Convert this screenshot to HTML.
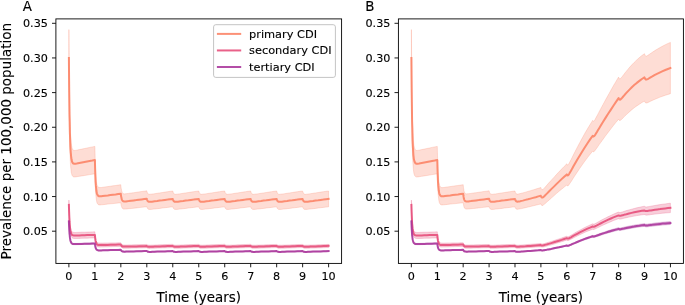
<!DOCTYPE html>
<html lang="en"><head><meta charset="utf-8"><title>Prevalence of CDI</title>
<style>
html,body{margin:0;padding:0;background:#fff;}
body{width:685px;height:305px;overflow:hidden;}
svg{display:block;filter:blur(0.35px);font-family:"DejaVu Sans","Liberation Sans",sans-serif;fill:#000;}
svg text{fill:#000;stroke:#000;stroke-width:0.12px;}
</style></head><body>
<svg width="685" height="305" viewBox="0 0 685 305">
<rect width="685" height="305" fill="#fff"/>
<g>
<path d="M68.9,29.6L69.0,43.5L69.1,55.8L69.2,66.7L69.3,76.3L69.4,84.9L69.5,94.2L69.7,102.2L69.8,109.1L69.9,115.0L70.2,124.4L70.4,131.4L70.7,136.5L71.0,140.3L71.2,143.1L71.5,145.2L72.0,147.9L72.5,149.3L73.0,150.0L74.1,150.5L75.4,150.4L76.7,150.2L79.3,149.6L81.9,149.1L84.5,148.5L87.1,148.0L89.7,147.4L92.3,146.9L94.9,146.4L94.9,146.4L95.0,151.1L95.1,155.4L95.2,159.1L95.3,162.5L95.4,165.4L95.5,168.6L95.6,171.4L95.8,173.8L95.9,175.8L96.2,179.1L96.4,181.5L96.7,183.2L96.9,184.5L97.2,185.4L97.5,186.1L98.0,186.9L98.5,187.3L99.0,187.5L100.1,187.6L101.4,187.5L102.7,187.3L105.2,186.9L107.8,186.6L110.4,186.2L113.0,185.8L115.6,185.5L118.2,185.1L120.8,184.7L120.8,184.7L120.9,185.8L121.0,186.8L121.1,187.6L121.2,188.4L121.4,189.1L121.5,189.8L121.6,190.5L121.7,191.0L121.9,191.5L122.1,192.3L122.4,192.8L122.6,193.1L122.9,193.4L123.2,193.6L123.4,193.7L123.9,193.8L124.5,193.9L125.0,193.8L126.0,193.7L127.3,193.6L128.6,193.4L131.2,193.0L133.8,192.7L136.4,192.3L139.0,191.9L141.6,191.5L144.2,191.2L146.8,190.8L146.8,190.8L146.9,191.2L147.0,191.6L147.1,192.0L147.2,192.3L147.3,192.6L147.5,192.8L147.6,193.1L147.7,193.3L147.8,193.5L148.1,193.7L148.4,193.9L148.6,194.1L148.9,194.2L149.1,194.2L149.4,194.2L149.9,194.3L150.4,194.2L151.0,194.2L152.0,194.0L153.3,193.9L154.6,193.7L157.2,193.3L159.8,192.9L162.4,192.5L165.0,192.1L167.6,191.7L170.2,191.3L172.8,191.0L172.8,191.0L172.9,191.4L173.0,191.8L173.1,192.1L173.2,192.4L173.3,192.6L173.4,192.9L173.6,193.1L173.7,193.3L173.8,193.5L174.1,193.8L174.3,194.0L174.6,194.1L174.9,194.2L175.1,194.2L175.4,194.3L175.9,194.3L176.4,194.2L176.9,194.2L178.0,194.0L179.3,193.9L180.6,193.7L183.2,193.3L185.8,192.9L188.4,192.5L191.0,192.1L193.6,191.7L196.2,191.3L198.8,191.0L198.8,191.0L198.9,191.4L199.0,191.8L199.1,192.1L199.2,192.4L199.3,192.6L199.4,192.9L199.5,193.1L199.7,193.3L199.8,193.5L200.0,193.8L200.3,194.0L200.6,194.1L200.8,194.2L201.1,194.2L201.3,194.3L201.9,194.3L202.4,194.2L202.9,194.2L203.9,194.0L205.2,193.9L206.5,193.7L209.1,193.3L211.7,192.9L214.3,192.5L216.9,192.1L219.5,191.7L222.1,191.3L224.7,191.0L224.7,191.0L224.8,191.4L224.9,191.8L225.0,192.1L225.1,192.4L225.2,192.6L225.4,192.9L225.5,193.1L225.6,193.3L225.8,193.5L226.0,193.8L226.3,194.0L226.5,194.1L226.8,194.2L227.1,194.2L227.3,194.3L227.8,194.3L228.4,194.2L228.9,194.2L229.9,194.0L231.2,193.9L232.5,193.7L235.1,193.3L237.7,192.9L240.3,192.5L242.9,192.1L245.5,191.7L248.1,191.3L250.7,191.0L250.7,191.0L250.8,191.4L250.9,191.8L251.0,192.1L251.1,192.4L251.2,192.6L251.3,192.9L251.5,193.1L251.6,193.3L251.7,193.5L252.0,193.8L252.3,194.0L252.5,194.1L252.8,194.2L253.0,194.2L253.3,194.3L253.8,194.3L254.3,194.2L254.9,194.2L255.9,194.0L257.2,193.9L258.5,193.7L261.1,193.3L263.7,192.9L266.3,192.5L268.9,192.1L271.5,191.7L274.1,191.3L276.7,191.0L276.7,191.0L276.8,191.4L276.9,191.8L277.0,192.1L277.1,192.4L277.2,192.6L277.3,192.9L277.4,193.1L277.6,193.3L277.7,193.5L278.0,193.8L278.2,194.0L278.5,194.1L278.7,194.2L279.0,194.2L279.3,194.3L279.8,194.3L280.3,194.2L280.8,194.2L281.9,194.0L283.2,193.9L284.5,193.7L287.1,193.3L289.7,192.9L292.3,192.5L294.8,192.1L297.4,191.7L300.0,191.3L302.6,191.0L302.6,191.0L302.7,191.4L302.8,191.8L303.0,192.1L303.1,192.4L303.2,192.6L303.3,192.9L303.4,193.1L303.5,193.3L303.7,193.5L303.9,193.8L304.2,194.0L304.5,194.1L304.7,194.2L305.0,194.2L305.2,194.3L305.8,194.3L306.3,194.2L306.8,194.2L307.8,194.0L309.1,193.9L310.4,193.7L313.0,193.3L315.6,192.9L318.2,192.5L320.8,192.1L323.4,191.7L326.0,191.3L328.6,191.0L328.6,206.8L326.0,207.1L323.4,207.4L320.8,207.7L318.2,208.0L315.6,208.4L313.0,208.7L310.4,209.0L309.1,209.1L307.8,209.3L306.8,209.4L306.3,209.4L305.8,209.4L305.2,209.4L305.0,209.4L304.7,209.4L304.5,209.3L304.2,209.2L303.9,209.1L303.7,208.8L303.5,208.7L303.4,208.6L303.3,208.4L303.2,208.2L303.1,208.0L303.0,207.7L302.8,207.5L302.7,207.2L302.6,206.8L302.6,206.8L300.0,207.1L297.4,207.4L294.8,207.7L292.3,208.0L289.7,208.4L287.1,208.7L284.5,209.0L283.2,209.1L281.9,209.3L280.8,209.4L280.3,209.4L279.8,209.4L279.3,209.4L279.0,209.4L278.7,209.4L278.5,209.3L278.2,209.2L278.0,209.1L277.7,208.8L277.6,208.7L277.4,208.6L277.3,208.4L277.2,208.2L277.1,208.0L277.0,207.7L276.9,207.5L276.8,207.2L276.7,206.8L276.7,206.8L274.1,207.1L271.5,207.4L268.9,207.7L266.3,208.0L263.7,208.4L261.1,208.7L258.5,209.0L257.2,209.1L255.9,209.3L254.9,209.4L254.3,209.4L253.8,209.4L253.3,209.4L253.0,209.4L252.8,209.4L252.5,209.3L252.3,209.2L252.0,209.1L251.7,208.8L251.6,208.7L251.5,208.6L251.3,208.4L251.2,208.2L251.1,208.0L251.0,207.7L250.9,207.5L250.8,207.2L250.7,206.8L250.7,206.8L248.1,207.1L245.5,207.4L242.9,207.7L240.3,208.0L237.7,208.4L235.1,208.7L232.5,209.0L231.2,209.1L229.9,209.3L228.9,209.4L228.4,209.4L227.8,209.4L227.3,209.4L227.1,209.4L226.8,209.4L226.5,209.3L226.3,209.2L226.0,209.1L225.8,208.8L225.6,208.7L225.5,208.6L225.4,208.4L225.2,208.2L225.1,208.0L225.0,207.7L224.9,207.5L224.8,207.2L224.7,206.8L224.7,206.8L222.1,207.1L219.5,207.4L216.9,207.7L214.3,208.0L211.7,208.4L209.1,208.7L206.5,209.0L205.2,209.1L203.9,209.3L202.9,209.4L202.4,209.4L201.9,209.4L201.3,209.4L201.1,209.4L200.8,209.4L200.6,209.3L200.3,209.2L200.0,209.1L199.8,208.8L199.7,208.7L199.5,208.6L199.4,208.4L199.3,208.2L199.2,208.0L199.1,207.7L199.0,207.5L198.9,207.2L198.8,206.8L198.8,206.8L196.2,207.1L193.6,207.4L191.0,207.7L188.4,208.0L185.8,208.4L183.2,208.7L180.6,209.0L179.3,209.1L178.0,209.3L176.9,209.4L176.4,209.4L175.9,209.4L175.4,209.4L175.1,209.4L174.9,209.4L174.6,209.3L174.3,209.2L174.1,209.1L173.8,208.8L173.7,208.7L173.6,208.6L173.4,208.4L173.3,208.2L173.2,208.0L173.1,207.7L173.0,207.5L172.9,207.2L172.8,206.8L172.8,206.8L170.2,207.1L167.6,207.4L165.0,207.7L162.4,208.0L159.8,208.4L157.2,208.7L154.6,209.0L153.3,209.1L152.0,209.3L151.0,209.4L150.4,209.4L149.9,209.4L149.4,209.4L149.1,209.4L148.9,209.4L148.6,209.3L148.4,209.2L148.1,209.0L147.8,208.8L147.7,208.7L147.6,208.5L147.5,208.3L147.3,208.1L147.2,207.9L147.1,207.6L147.0,207.4L146.9,207.1L146.8,206.7L146.8,206.7L144.2,207.0L141.6,207.3L139.0,207.6L136.4,207.9L133.8,208.2L131.2,208.5L128.6,208.7L127.3,208.9L126.0,209.0L125.0,209.1L124.5,209.1L123.9,209.1L123.4,209.0L123.2,208.9L122.9,208.7L122.6,208.5L122.4,208.3L122.1,207.9L121.9,207.4L121.7,207.1L121.6,206.7L121.5,206.3L121.4,205.8L121.2,205.3L121.1,204.8L121.0,204.2L120.9,203.5L120.8,202.7L120.8,202.7L118.2,203.0L115.6,203.3L113.0,203.6L110.4,203.8L107.8,204.1L105.2,204.4L102.7,204.7L101.4,204.8L100.1,204.9L99.0,204.9L98.5,204.7L98.0,204.4L97.5,203.7L97.2,203.2L96.9,202.5L96.7,201.5L96.4,200.2L96.2,198.3L95.9,195.9L95.8,194.4L95.6,192.6L95.5,190.6L95.4,188.2L95.3,185.9L95.2,183.4L95.1,180.6L95.0,177.4L94.9,173.8L94.9,173.8L92.3,174.2L89.7,174.6L87.1,175.1L84.5,175.5L81.9,175.9L79.3,176.3L76.7,176.7L75.4,176.9L74.1,177.0L73.0,176.6L72.5,176.1L72.0,175.2L71.5,173.3L71.2,171.9L71.0,169.8L70.7,167.0L70.4,163.2L70.2,157.9L69.9,150.8L69.8,146.4L69.7,141.2L69.5,135.2L69.4,128.2L69.3,121.7L69.2,114.4L69.1,106.2L69.0,96.9L68.9,86.4Z" fill="#fb8163" fill-opacity="0.27" stroke="#fb8163" stroke-opacity="0.27" stroke-width="0.9" stroke-linejoin="round"/>
<path d="M68.9,58.0L69.0,70.2L69.1,81.0L69.2,90.5L69.3,99.0L69.4,106.5L69.5,114.7L69.7,121.7L69.8,127.7L69.9,132.9L70.2,141.2L70.4,147.3L70.7,151.8L71.0,155.1L71.2,157.5L71.5,159.3L72.0,161.5L72.5,162.7L73.0,163.3L74.1,163.7L75.4,163.7L76.7,163.5L79.3,163.0L81.9,162.5L84.5,162.0L87.1,161.5L89.7,161.0L92.3,160.6L94.9,160.1L94.9,160.1L95.0,164.3L95.1,168.0L95.2,171.3L95.3,174.2L95.4,176.8L95.5,179.6L95.6,182.0L95.8,184.1L95.9,185.9L96.2,188.7L96.4,190.8L96.7,192.4L96.9,193.5L97.2,194.3L97.5,194.9L98.0,195.6L98.5,196.0L99.0,196.2L100.1,196.3L101.4,196.2L102.7,196.0L105.2,195.7L107.8,195.4L110.4,195.0L113.0,194.7L115.6,194.4L118.2,194.0L120.8,193.7L120.8,193.7L120.9,194.6L121.0,195.5L121.1,196.2L121.2,196.9L121.4,197.4L121.5,198.1L121.6,198.6L121.7,199.1L121.9,199.4L122.1,200.1L122.4,200.5L122.6,200.8L122.9,201.1L123.2,201.2L123.4,201.3L123.9,201.4L124.5,201.5L125.0,201.5L126.0,201.4L127.3,201.2L128.6,201.1L131.2,200.7L133.8,200.4L136.4,200.1L139.0,199.7L141.6,199.4L144.2,199.1L146.8,198.8L146.8,198.8L146.9,199.1L147.0,199.5L147.1,199.8L147.2,200.1L147.3,200.3L147.5,200.6L147.6,200.8L147.7,201.0L147.8,201.1L148.1,201.4L148.4,201.6L148.6,201.7L148.9,201.8L149.1,201.8L149.4,201.8L149.9,201.8L150.4,201.8L151.0,201.8L152.0,201.7L153.3,201.5L154.6,201.3L157.2,201.0L159.8,200.6L162.4,200.3L165.0,199.9L167.6,199.6L170.2,199.2L172.8,198.9L172.8,198.9L172.9,199.3L173.0,199.6L173.1,199.9L173.2,200.2L173.3,200.4L173.4,200.6L173.6,200.9L173.7,201.0L173.8,201.2L174.1,201.4L174.3,201.6L174.6,201.7L174.9,201.8L175.1,201.8L175.4,201.8L175.9,201.8L176.4,201.8L176.9,201.8L178.0,201.7L179.3,201.5L180.6,201.3L183.2,201.0L185.8,200.6L188.4,200.3L191.0,199.9L193.6,199.6L196.2,199.2L198.8,198.9L198.8,198.9L198.9,199.3L199.0,199.6L199.1,199.9L199.2,200.2L199.3,200.4L199.4,200.6L199.5,200.9L199.7,201.0L199.8,201.2L200.0,201.4L200.3,201.6L200.6,201.7L200.8,201.8L201.1,201.8L201.3,201.8L201.9,201.8L202.4,201.8L202.9,201.8L203.9,201.7L205.2,201.5L206.5,201.3L209.1,201.0L211.7,200.6L214.3,200.3L216.9,199.9L219.5,199.6L222.1,199.2L224.7,198.9L224.7,198.9L224.8,199.3L224.9,199.6L225.0,199.9L225.1,200.2L225.2,200.4L225.4,200.6L225.5,200.9L225.6,201.0L225.8,201.2L226.0,201.4L226.3,201.6L226.5,201.7L226.8,201.8L227.1,201.8L227.3,201.8L227.8,201.8L228.4,201.8L228.9,201.8L229.9,201.7L231.2,201.5L232.5,201.3L235.1,201.0L237.7,200.6L240.3,200.3L242.9,199.9L245.5,199.6L248.1,199.2L250.7,198.9L250.7,198.9L250.8,199.3L250.9,199.6L251.0,199.9L251.1,200.2L251.2,200.4L251.3,200.6L251.5,200.9L251.6,201.0L251.7,201.2L252.0,201.4L252.3,201.6L252.5,201.7L252.8,201.8L253.0,201.8L253.3,201.8L253.8,201.8L254.3,201.8L254.9,201.8L255.9,201.7L257.2,201.5L258.5,201.3L261.1,201.0L263.7,200.6L266.3,200.3L268.9,199.9L271.5,199.6L274.1,199.2L276.7,198.9L276.7,198.9L276.8,199.3L276.9,199.6L277.0,199.9L277.1,200.2L277.2,200.4L277.3,200.6L277.4,200.9L277.6,201.0L277.7,201.2L278.0,201.4L278.2,201.6L278.5,201.7L278.7,201.8L279.0,201.8L279.3,201.8L279.8,201.8L280.3,201.8L280.8,201.8L281.9,201.7L283.2,201.5L284.5,201.3L287.1,201.0L289.7,200.6L292.3,200.3L294.8,199.9L297.4,199.6L300.0,199.2L302.6,198.9L302.6,198.9L302.7,199.3L302.8,199.6L303.0,199.9L303.1,200.2L303.2,200.4L303.3,200.6L303.4,200.9L303.5,201.0L303.7,201.2L303.9,201.4L304.2,201.6L304.5,201.7L304.7,201.8L305.0,201.8L305.2,201.8L305.8,201.8L306.3,201.8L306.8,201.8L307.8,201.7L309.1,201.5L310.4,201.3L313.0,201.0L315.6,200.6L318.2,200.3L320.8,199.9L323.4,199.6L326.0,199.2L328.6,198.9" fill="none" stroke="#fb8163" stroke-opacity="0.87" stroke-width="2.0" stroke-linejoin="round" stroke-linecap="square"/>
<path d="M68.9,200.1L69.0,203.8L69.1,207.1L69.2,210.1L69.3,212.7L69.4,215.0L69.5,217.5L69.7,219.7L69.8,221.6L69.9,223.2L70.2,225.7L70.4,227.6L70.7,228.9L71.0,229.9L71.2,230.7L71.5,231.2L72.0,231.8L72.5,232.1L73.0,232.3L74.1,232.4L75.4,232.5L76.7,232.4L79.3,232.3L81.9,232.2L84.5,232.2L87.1,232.1L89.7,232.0L92.3,231.9L94.9,231.8L94.9,231.8L95.0,233.1L95.1,234.3L95.2,235.3L95.3,236.2L95.4,237.0L95.5,237.8L95.6,238.6L95.8,239.2L95.9,239.8L96.2,240.7L96.4,241.3L96.7,241.8L96.9,242.1L97.2,242.4L97.5,242.6L98.0,242.8L98.5,243.0L99.0,243.0L100.1,243.1L101.4,243.1L102.7,243.1L105.2,243.0L107.8,243.0L110.4,242.9L113.0,242.9L115.6,242.9L118.2,242.8L120.8,242.8L120.8,242.8L120.9,243.0L121.0,243.3L121.1,243.5L121.2,243.7L121.4,243.8L121.5,244.0L121.6,244.2L121.7,244.3L121.9,244.4L122.1,244.6L122.4,244.7L122.6,244.8L122.9,244.9L123.2,244.9L123.4,245.0L123.9,245.0L124.5,245.0L125.0,245.0L126.0,245.0L127.3,245.0L128.6,244.9L131.2,244.9L133.8,244.8L136.4,244.7L139.0,244.7L141.6,244.6L144.2,244.5L146.8,244.4L146.8,244.4L146.9,244.5L147.0,244.6L147.1,244.7L147.2,244.8L147.3,244.8L147.5,244.9L147.6,244.9L147.7,245.0L147.8,245.0L148.1,245.1L148.4,245.1L148.6,245.1L148.9,245.2L149.1,245.2L149.4,245.2L149.9,245.2L150.4,245.2L151.0,245.2L152.0,245.1L153.3,245.1L154.6,245.0L157.2,244.9L159.8,244.8L162.4,244.7L165.0,244.6L167.6,244.5L170.2,244.4L172.8,244.3L172.8,244.3L172.9,244.4L173.0,244.5L173.1,244.6L173.2,244.7L173.3,244.8L173.4,244.8L173.6,244.9L173.7,244.9L173.8,245.0L174.1,245.1L174.3,245.1L174.6,245.1L174.9,245.2L175.1,245.2L175.4,245.2L175.9,245.2L176.4,245.2L176.9,245.2L178.0,245.1L179.3,245.1L180.6,245.0L183.2,244.9L185.8,244.8L188.4,244.7L191.0,244.6L193.6,244.5L196.2,244.4L198.8,244.3L198.8,244.3L198.9,244.4L199.0,244.5L199.1,244.6L199.2,244.7L199.3,244.8L199.4,244.8L199.5,244.9L199.7,245.0L199.8,245.0L200.0,245.1L200.3,245.1L200.6,245.2L200.8,245.2L201.1,245.2L201.3,245.2L201.9,245.2L202.4,245.2L202.9,245.2L203.9,245.1L205.2,245.1L206.5,245.0L209.1,244.9L211.7,244.8L214.3,244.7L216.9,244.6L219.5,244.5L222.1,244.4L224.7,244.3L224.7,244.3L224.8,244.4L224.9,244.5L225.0,244.6L225.1,244.7L225.2,244.8L225.4,244.9L225.5,244.9L225.6,245.0L225.8,245.0L226.0,245.1L226.3,245.1L226.5,245.2L226.8,245.2L227.1,245.2L227.3,245.2L227.8,245.2L228.4,245.2L228.9,245.2L229.9,245.2L231.2,245.1L232.5,245.1L235.1,245.0L237.7,244.8L240.3,244.7L242.9,244.6L245.5,244.5L248.1,244.4L250.7,244.3L250.7,244.3L250.8,244.5L250.9,244.6L251.0,244.6L251.1,244.7L251.2,244.8L251.3,244.9L251.5,244.9L251.6,245.0L251.7,245.0L252.0,245.1L252.3,245.1L252.5,245.2L252.8,245.2L253.0,245.2L253.3,245.2L253.8,245.2L254.3,245.2L254.9,245.2L255.9,245.2L257.2,245.1L258.5,245.1L261.1,245.0L263.7,244.9L266.3,244.8L268.9,244.7L271.5,244.6L274.1,244.5L276.7,244.4L276.7,244.4L276.8,244.5L276.9,244.6L277.0,244.7L277.1,244.7L277.2,244.8L277.3,244.9L277.4,244.9L277.6,245.0L277.7,245.0L278.0,245.1L278.2,245.2L278.5,245.2L278.7,245.2L279.0,245.2L279.3,245.2L279.8,245.2L280.3,245.2L280.8,245.2L281.9,245.2L283.2,245.1L284.5,245.1L287.1,245.0L289.7,244.9L292.3,244.8L294.8,244.7L297.4,244.6L300.0,244.5L302.6,244.4L302.6,244.4L302.7,244.5L302.8,244.6L303.0,244.7L303.1,244.7L303.2,244.8L303.3,244.9L303.4,244.9L303.5,245.0L303.7,245.0L303.9,245.1L304.2,245.2L304.5,245.2L304.7,245.2L305.0,245.2L305.2,245.2L305.8,245.2L306.3,245.2L306.8,245.2L307.8,245.2L309.1,245.1L310.4,245.1L313.0,245.0L315.6,244.9L318.2,244.8L320.8,244.7L323.4,244.6L326.0,244.5L328.6,244.4L328.6,247.5L326.0,247.6L323.4,247.7L320.8,247.8L318.2,247.9L315.6,248.0L313.0,248.1L310.4,248.1L309.1,248.2L307.8,248.2L306.8,248.3L306.3,248.3L305.8,248.3L305.2,248.3L305.0,248.3L304.7,248.3L304.5,248.2L304.2,248.2L303.9,248.2L303.7,248.1L303.5,248.1L303.4,248.0L303.3,248.0L303.2,247.9L303.1,247.9L303.0,247.8L302.8,247.7L302.7,247.6L302.6,247.5L302.6,247.5L300.0,247.6L297.4,247.7L294.8,247.8L292.3,247.9L289.7,248.0L287.1,248.1L284.5,248.2L283.2,248.2L281.9,248.2L280.8,248.3L280.3,248.3L279.8,248.3L279.3,248.3L279.0,248.3L278.7,248.3L278.5,248.3L278.2,248.2L278.0,248.2L277.7,248.1L277.6,248.1L277.4,248.0L277.3,248.0L277.2,247.9L277.1,247.9L277.0,247.8L276.9,247.7L276.8,247.6L276.7,247.5L276.7,247.5L274.1,247.6L271.5,247.7L268.9,247.8L266.3,247.9L263.7,248.0L261.1,248.1L258.5,248.2L257.2,248.2L255.9,248.3L254.9,248.3L254.3,248.3L253.8,248.3L253.3,248.3L253.0,248.3L252.8,248.3L252.5,248.3L252.3,248.2L252.0,248.2L251.7,248.1L251.6,248.1L251.5,248.1L251.3,248.0L251.2,247.9L251.1,247.9L251.0,247.8L250.9,247.7L250.8,247.7L250.7,247.6L250.7,247.6L248.1,247.6L245.5,247.7L242.9,247.8L240.3,247.9L237.7,248.0L235.1,248.1L232.5,248.2L231.2,248.2L229.9,248.3L228.9,248.3L228.4,248.3L227.8,248.3L227.3,248.3L227.1,248.3L226.8,248.3L226.5,248.3L226.3,248.3L226.0,248.2L225.8,248.1L225.6,248.1L225.5,248.1L225.4,248.0L225.2,247.9L225.1,247.9L225.0,247.8L224.9,247.8L224.8,247.7L224.7,247.6L224.7,247.6L222.1,247.7L219.5,247.7L216.9,247.8L214.3,247.9L211.7,248.0L209.1,248.1L206.5,248.2L205.2,248.2L203.9,248.3L202.9,248.3L202.4,248.3L201.9,248.3L201.3,248.3L201.1,248.3L200.8,248.3L200.6,248.3L200.3,248.3L200.0,248.2L199.8,248.2L199.7,248.1L199.5,248.1L199.4,248.0L199.3,248.0L199.2,247.9L199.1,247.8L199.0,247.8L198.9,247.7L198.8,247.6L198.8,247.6L196.2,247.7L193.6,247.8L191.0,247.8L188.4,247.9L185.8,248.0L183.2,248.1L180.6,248.2L179.3,248.2L178.0,248.3L176.9,248.3L176.4,248.3L175.9,248.3L175.4,248.3L175.1,248.3L174.9,248.3L174.6,248.3L174.3,248.3L174.1,248.2L173.8,248.2L173.7,248.1L173.6,248.1L173.4,248.0L173.3,248.0L173.2,247.9L173.1,247.8L173.0,247.8L172.9,247.7L172.8,247.6L172.8,247.6L170.2,247.7L167.6,247.8L165.0,247.9L162.4,247.9L159.8,248.0L157.2,248.1L154.6,248.2L153.3,248.3L152.0,248.3L151.0,248.3L150.4,248.3L149.9,248.4L149.4,248.4L149.1,248.4L148.9,248.3L148.6,248.3L148.4,248.3L148.1,248.3L147.8,248.2L147.7,248.2L147.6,248.2L147.5,248.1L147.3,248.1L147.2,248.0L147.1,247.9L147.0,247.9L146.9,247.8L146.8,247.7L146.8,247.7L144.2,247.8L141.6,247.9L139.0,247.9L136.4,248.0L133.8,248.0L131.2,248.1L128.6,248.2L127.3,248.2L126.0,248.2L125.0,248.2L124.5,248.2L123.9,248.2L123.4,248.2L123.2,248.2L122.9,248.1L122.6,248.1L122.4,248.0L122.1,247.9L121.9,247.7L121.7,247.6L121.6,247.5L121.5,247.4L121.4,247.2L121.2,247.1L121.1,247.0L121.0,246.8L120.9,246.6L120.8,246.4L120.8,246.4L118.2,246.4L115.6,246.5L113.0,246.6L110.4,246.7L107.8,246.8L105.2,246.9L102.7,247.0L101.4,247.0L100.1,247.1L99.0,247.0L98.5,247.0L98.0,246.9L97.5,246.7L97.2,246.6L96.9,246.4L96.7,246.1L96.4,245.7L96.2,245.2L95.9,244.5L95.8,244.0L95.6,243.5L95.5,242.9L95.4,242.2L95.3,241.5L95.2,240.8L95.1,239.9L95.0,239.0L94.9,237.9L94.9,237.9L92.3,238.0L89.7,238.1L87.1,238.2L84.5,238.2L81.9,238.3L79.3,238.4L76.7,238.5L75.4,238.5L74.1,238.5L73.0,238.3L72.5,238.1L72.0,237.7L71.5,237.1L71.2,236.5L71.0,235.9L70.7,234.9L70.4,233.7L70.2,232.1L69.9,229.8L69.8,228.4L69.7,226.8L69.5,224.9L69.4,222.7L69.3,220.7L69.2,218.5L69.1,215.9L69.0,213.0L68.9,209.8Z" fill="#e64a78" fill-opacity="0.27" stroke="#e64a78" stroke-opacity="0.27" stroke-width="0.9" stroke-linejoin="round"/>
<path d="M68.9,204.9L69.0,208.4L69.1,211.5L69.2,214.3L69.3,216.7L69.4,218.9L69.5,221.2L69.7,223.3L69.8,225.0L69.9,226.5L70.2,228.9L70.4,230.6L70.7,231.9L71.0,232.9L71.2,233.6L71.5,234.1L72.0,234.8L72.5,235.1L73.0,235.3L74.1,235.5L75.4,235.5L76.7,235.4L79.3,235.4L81.9,235.3L84.5,235.2L87.1,235.1L89.7,235.0L92.3,235.0L94.9,234.9L94.9,234.9L95.0,236.1L95.1,237.1L95.2,238.0L95.3,238.8L95.4,239.6L95.5,240.4L95.6,241.0L95.8,241.6L95.9,242.1L96.2,242.9L96.4,243.5L96.7,243.9L96.9,244.3L97.2,244.5L97.5,244.7L98.0,244.9L98.5,245.0L99.0,245.0L100.1,245.1L101.4,245.1L102.7,245.0L105.2,245.0L107.8,244.9L110.4,244.8L113.0,244.8L115.6,244.7L118.2,244.6L120.8,244.6L120.8,244.6L120.9,244.8L121.0,245.0L121.1,245.2L121.2,245.4L121.4,245.5L121.5,245.7L121.6,245.8L121.7,246.0L121.9,246.1L122.1,246.2L122.4,246.4L122.6,246.4L122.9,246.5L123.2,246.5L123.4,246.6L123.9,246.6L124.5,246.6L125.0,246.6L126.0,246.6L127.3,246.6L128.6,246.5L131.2,246.5L133.8,246.4L136.4,246.4L139.0,246.3L141.6,246.2L144.2,246.2L146.8,246.1L146.8,246.1L146.9,246.2L147.0,246.3L147.1,246.3L147.2,246.4L147.3,246.4L147.5,246.5L147.6,246.5L147.7,246.6L147.8,246.6L148.1,246.7L148.4,246.7L148.6,246.7L148.9,246.8L149.1,246.8L149.4,246.8L149.9,246.8L150.4,246.8L151.0,246.7L152.0,246.7L153.3,246.7L154.6,246.6L157.2,246.5L159.8,246.4L162.4,246.3L165.0,246.2L167.6,246.1L170.2,246.0L172.8,245.9L172.8,245.9L172.9,246.1L173.0,246.1L173.1,246.2L173.2,246.3L173.3,246.4L173.4,246.4L173.6,246.5L173.7,246.5L173.8,246.6L174.1,246.6L174.3,246.7L174.6,246.7L174.9,246.7L175.1,246.8L175.4,246.8L175.9,246.8L176.4,246.8L176.9,246.7L178.0,246.7L179.3,246.7L180.6,246.6L183.2,246.5L185.8,246.4L188.4,246.3L191.0,246.2L193.6,246.1L196.2,246.0L198.8,245.9L198.8,245.9L198.9,246.1L199.0,246.1L199.1,246.2L199.2,246.3L199.3,246.4L199.4,246.4L199.5,246.5L199.7,246.5L199.8,246.6L200.0,246.6L200.3,246.7L200.6,246.7L200.8,246.7L201.1,246.8L201.3,246.8L201.9,246.8L202.4,246.8L202.9,246.7L203.9,246.7L205.2,246.7L206.5,246.6L209.1,246.5L211.7,246.4L214.3,246.3L216.9,246.2L219.5,246.1L222.1,246.0L224.7,245.9L224.7,245.9L224.8,246.1L224.9,246.1L225.0,246.2L225.1,246.3L225.2,246.4L225.4,246.4L225.5,246.5L225.6,246.5L225.8,246.6L226.0,246.6L226.3,246.7L226.5,246.7L226.8,246.7L227.1,246.8L227.3,246.8L227.8,246.8L228.4,246.8L228.9,246.7L229.9,246.7L231.2,246.7L232.5,246.6L235.1,246.5L237.7,246.4L240.3,246.3L242.9,246.2L245.5,246.1L248.1,246.0L250.7,245.9L250.7,245.9L250.8,246.1L250.9,246.1L251.0,246.2L251.1,246.3L251.2,246.4L251.3,246.4L251.5,246.5L251.6,246.5L251.7,246.6L252.0,246.6L252.3,246.7L252.5,246.7L252.8,246.7L253.0,246.8L253.3,246.8L253.8,246.8L254.3,246.8L254.9,246.7L255.9,246.7L257.2,246.7L258.5,246.6L261.1,246.5L263.7,246.4L266.3,246.3L268.9,246.2L271.5,246.1L274.1,246.0L276.7,245.9L276.7,245.9L276.8,246.1L276.9,246.1L277.0,246.2L277.1,246.3L277.2,246.4L277.3,246.4L277.4,246.5L277.6,246.5L277.7,246.6L278.0,246.6L278.2,246.7L278.5,246.7L278.7,246.7L279.0,246.8L279.3,246.8L279.8,246.8L280.3,246.8L280.8,246.7L281.9,246.7L283.2,246.7L284.5,246.6L287.1,246.5L289.7,246.4L292.3,246.3L294.8,246.2L297.4,246.1L300.0,246.0L302.6,245.9L302.6,245.9L302.7,246.1L302.8,246.1L303.0,246.2L303.1,246.3L303.2,246.4L303.3,246.4L303.4,246.5L303.5,246.5L303.7,246.6L303.9,246.6L304.2,246.7L304.5,246.7L304.7,246.7L305.0,246.8L305.2,246.8L305.8,246.8L306.3,246.8L306.8,246.7L307.8,246.7L309.1,246.7L310.4,246.6L313.0,246.5L315.6,246.4L318.2,246.3L320.8,246.2L323.4,246.1L326.0,246.0L328.6,245.9" fill="none" stroke="#e64a78" stroke-opacity="0.87" stroke-width="2.0" stroke-linejoin="round" stroke-linecap="square"/>
<path d="M68.9,220.1L69.0,222.8L69.1,225.2L69.2,227.3L69.3,229.1L69.4,230.8L69.5,232.6L69.7,234.1L69.8,235.5L69.9,236.6L70.2,238.4L70.4,239.8L70.7,240.8L71.0,241.5L71.2,242.0L71.5,242.4L72.0,242.9L72.5,243.2L73.0,243.3L74.1,243.4L75.4,243.4L76.7,243.4L79.3,243.3L81.9,243.2L84.5,243.2L87.1,243.1L89.7,243.0L92.3,242.9L94.9,242.9L94.9,242.9L95.0,243.7L95.1,244.4L95.2,245.1L95.3,245.6L95.4,246.1L95.5,246.7L95.6,247.2L95.8,247.6L95.9,247.9L96.2,248.5L96.4,248.9L96.7,249.2L96.9,249.4L97.2,249.6L97.5,249.7L98.0,249.8L98.5,249.9L99.0,249.9L100.1,249.9L101.4,249.9L102.7,249.9L105.2,249.8L107.8,249.7L110.4,249.7L113.0,249.6L115.6,249.5L118.2,249.4L120.8,249.3L120.8,249.3L120.9,249.6L121.0,249.8L121.1,250.0L121.2,250.1L121.4,250.3L121.5,250.4L121.6,250.5L121.7,250.7L121.9,250.8L122.1,250.9L122.4,251.0L122.6,251.1L122.9,251.1L123.2,251.2L123.4,251.2L123.9,251.2L124.5,251.2L125.0,251.2L126.0,251.2L127.3,251.2L128.6,251.1L131.2,251.1L133.8,251.0L136.4,250.9L139.0,250.8L141.6,250.7L144.2,250.6L146.8,250.6L146.8,250.6L146.9,250.7L147.0,250.8L147.1,250.9L147.2,251.0L147.3,251.0L147.5,251.1L147.6,251.2L147.7,251.2L147.8,251.3L148.1,251.3L148.4,251.4L148.6,251.4L148.9,251.4L149.1,251.5L149.4,251.5L149.9,251.5L150.4,251.5L151.0,251.5L152.0,251.4L153.3,251.4L154.6,251.3L157.2,251.2L159.8,251.1L162.4,251.0L165.0,250.9L167.6,250.8L170.2,250.7L172.8,250.6L172.8,250.6L172.9,250.7L173.0,250.8L173.1,250.9L173.2,251.0L173.3,251.1L173.4,251.1L173.6,251.2L173.7,251.2L173.8,251.3L174.1,251.4L174.3,251.4L174.6,251.4L174.9,251.5L175.1,251.5L175.4,251.5L175.9,251.5L176.4,251.5L176.9,251.5L178.0,251.4L179.3,251.4L180.6,251.3L183.2,251.2L185.8,251.1L188.4,251.0L191.0,250.9L193.6,250.8L196.2,250.7L198.8,250.6L198.8,250.6L198.9,250.7L199.0,250.8L199.1,250.9L199.2,251.0L199.3,251.1L199.4,251.1L199.5,251.2L199.7,251.2L199.8,251.3L200.0,251.4L200.3,251.4L200.6,251.4L200.8,251.5L201.1,251.5L201.3,251.5L201.9,251.5L202.4,251.5L202.9,251.5L203.9,251.4L205.2,251.4L206.5,251.3L209.1,251.2L211.7,251.1L214.3,251.0L216.9,250.9L219.5,250.8L222.1,250.7L224.7,250.6L224.7,250.6L224.8,250.7L224.9,250.8L225.0,250.9L225.1,251.0L225.2,251.1L225.4,251.1L225.5,251.2L225.6,251.2L225.8,251.3L226.0,251.4L226.3,251.4L226.5,251.4L226.8,251.5L227.1,251.5L227.3,251.5L227.8,251.5L228.4,251.5L228.9,251.5L229.9,251.4L231.2,251.4L232.5,251.3L235.1,251.2L237.7,251.1L240.3,251.0L242.9,250.9L245.5,250.8L248.1,250.7L250.7,250.6L250.7,250.6L250.8,250.7L250.9,250.8L251.0,250.9L251.1,251.0L251.2,251.1L251.3,251.1L251.5,251.2L251.6,251.2L251.7,251.3L252.0,251.4L252.3,251.4L252.5,251.4L252.8,251.5L253.0,251.5L253.3,251.5L253.8,251.5L254.3,251.5L254.9,251.5L255.9,251.4L257.2,251.4L258.5,251.3L261.1,251.2L263.7,251.1L266.3,251.0L268.9,250.9L271.5,250.8L274.1,250.7L276.7,250.6L276.7,250.6L276.8,250.7L276.9,250.8L277.0,250.9L277.1,251.0L277.2,251.1L277.3,251.1L277.4,251.2L277.6,251.2L277.7,251.3L278.0,251.4L278.2,251.4L278.5,251.4L278.7,251.5L279.0,251.5L279.3,251.5L279.8,251.5L280.3,251.5L280.8,251.5L281.9,251.4L283.2,251.4L284.5,251.3L287.1,251.2L289.7,251.1L292.3,251.0L294.8,250.9L297.4,250.8L300.0,250.7L302.6,250.6L302.6,250.6L302.7,250.7L302.8,250.8L303.0,250.9L303.1,251.0L303.2,251.1L303.3,251.1L303.4,251.2L303.5,251.2L303.7,251.3L303.9,251.4L304.2,251.4L304.5,251.4L304.7,251.5L305.0,251.5L305.2,251.5L305.8,251.5L306.3,251.5L306.8,251.5L307.8,251.4L309.1,251.4L310.4,251.3L313.0,251.2L315.6,251.1L318.2,251.0L320.8,250.9L323.4,250.8L326.0,250.7L328.6,250.6L328.6,251.5L326.0,251.6L323.4,251.7L320.8,251.8L318.2,251.9L315.6,252.0L313.0,252.1L310.4,252.2L309.1,252.2L307.8,252.2L306.8,252.3L306.3,252.3L305.8,252.3L305.2,252.3L305.0,252.3L304.7,252.3L304.5,252.3L304.2,252.2L303.9,252.2L303.7,252.1L303.5,252.1L303.4,252.0L303.3,252.0L303.2,251.9L303.1,251.8L303.0,251.8L302.8,251.7L302.7,251.6L302.6,251.5L302.6,251.5L300.0,251.6L297.4,251.7L294.8,251.8L292.3,251.9L289.7,252.0L287.1,252.1L284.5,252.2L283.2,252.2L281.9,252.2L280.8,252.3L280.3,252.3L279.8,252.3L279.3,252.3L279.0,252.3L278.7,252.3L278.5,252.3L278.2,252.2L278.0,252.2L277.7,252.1L277.6,252.1L277.4,252.0L277.3,252.0L277.2,251.9L277.1,251.8L277.0,251.8L276.9,251.7L276.8,251.6L276.7,251.5L276.7,251.5L274.1,251.6L271.5,251.7L268.9,251.8L266.3,251.9L263.7,252.0L261.1,252.1L258.5,252.2L257.2,252.2L255.9,252.2L254.9,252.3L254.3,252.3L253.8,252.3L253.3,252.3L253.0,252.3L252.8,252.3L252.5,252.3L252.3,252.2L252.0,252.2L251.7,252.1L251.6,252.1L251.5,252.0L251.3,252.0L251.2,251.9L251.1,251.8L251.0,251.8L250.9,251.7L250.8,251.6L250.7,251.5L250.7,251.5L248.1,251.6L245.5,251.7L242.9,251.8L240.3,251.9L237.7,252.0L235.1,252.1L232.5,252.2L231.2,252.2L229.9,252.2L228.9,252.3L228.4,252.3L227.8,252.3L227.3,252.3L227.1,252.3L226.8,252.3L226.5,252.3L226.3,252.2L226.0,252.2L225.8,252.1L225.6,252.1L225.5,252.0L225.4,252.0L225.2,251.9L225.1,251.8L225.0,251.8L224.9,251.7L224.8,251.6L224.7,251.5L224.7,251.5L222.1,251.6L219.5,251.7L216.9,251.8L214.3,251.9L211.7,252.0L209.1,252.1L206.5,252.2L205.2,252.2L203.9,252.2L202.9,252.3L202.4,252.3L201.9,252.3L201.3,252.3L201.1,252.3L200.8,252.3L200.6,252.3L200.3,252.2L200.0,252.2L199.8,252.1L199.7,252.1L199.5,252.0L199.4,252.0L199.3,251.9L199.2,251.8L199.1,251.8L199.0,251.7L198.9,251.6L198.8,251.5L198.8,251.5L196.2,251.6L193.6,251.7L191.0,251.8L188.4,251.9L185.8,252.0L183.2,252.1L180.6,252.2L179.3,252.2L178.0,252.2L176.9,252.3L176.4,252.3L175.9,252.3L175.4,252.3L175.1,252.3L174.9,252.3L174.6,252.3L174.3,252.2L174.1,252.2L173.8,252.1L173.7,252.1L173.6,252.0L173.4,252.0L173.3,251.9L173.2,251.8L173.1,251.8L173.0,251.7L172.9,251.6L172.8,251.5L172.8,251.5L170.2,251.6L167.6,251.7L165.0,251.8L162.4,251.9L159.8,252.0L157.2,252.1L154.6,252.2L153.3,252.2L152.0,252.2L151.0,252.3L150.4,252.3L149.9,252.3L149.4,252.3L149.1,252.3L148.9,252.3L148.6,252.2L148.4,252.2L148.1,252.2L147.8,252.1L147.7,252.1L147.6,252.0L147.5,251.9L147.3,251.9L147.2,251.8L147.1,251.7L147.0,251.6L146.9,251.5L146.8,251.4L146.8,251.4L144.2,251.5L141.6,251.6L139.0,251.7L136.4,251.8L133.8,251.8L131.2,251.9L128.6,252.0L127.3,252.0L126.0,252.1L125.0,252.1L124.5,252.1L123.9,252.1L123.4,252.1L123.2,252.0L122.9,252.0L122.6,251.9L122.4,251.9L122.1,251.8L121.9,251.6L121.7,251.5L121.6,251.4L121.5,251.3L121.4,251.2L121.2,251.0L121.1,250.9L121.0,250.7L120.9,250.5L120.8,250.3L120.8,250.3L118.2,250.4L115.6,250.4L113.0,250.5L110.4,250.6L107.8,250.7L105.2,250.7L102.7,250.8L101.4,250.8L100.1,250.9L99.0,250.8L98.5,250.8L98.0,250.7L97.5,250.6L97.2,250.5L96.9,250.3L96.7,250.1L96.4,249.9L96.2,249.5L95.9,249.0L95.8,248.6L95.6,248.2L95.5,247.8L95.4,247.3L95.3,246.8L95.2,246.3L95.1,245.7L95.0,245.0L94.9,244.2L94.9,244.2L92.3,244.3L89.7,244.3L87.1,244.4L84.5,244.5L81.9,244.5L79.3,244.6L76.7,244.7L75.4,244.7L74.1,244.7L73.0,244.6L72.5,244.5L72.0,244.2L71.5,243.8L71.2,243.4L71.0,242.9L70.7,242.2L70.4,241.3L70.2,240.0L69.9,238.3L69.8,237.2L69.7,236.0L69.5,234.5L69.4,232.8L69.3,231.3L69.2,229.5L69.1,227.5L69.0,225.3L68.9,222.8Z" fill="#a9349a" fill-opacity="0.27" stroke="#a9349a" stroke-opacity="0.27" stroke-width="0.9" stroke-linejoin="round"/>
<path d="M68.9,221.5L69.0,224.1L69.1,226.4L69.2,228.4L69.3,230.2L69.4,231.8L69.5,233.5L69.7,235.0L69.8,236.3L69.9,237.4L70.2,239.2L70.4,240.5L70.7,241.5L71.0,242.2L71.2,242.7L71.5,243.1L72.0,243.6L72.5,243.8L73.0,244.0L74.1,244.1L75.4,244.1L76.7,244.0L79.3,244.0L81.9,243.9L84.5,243.8L87.1,243.7L89.7,243.7L92.3,243.6L94.9,243.5L94.9,243.5L95.0,244.3L95.1,245.0L95.2,245.7L95.3,246.2L95.4,246.7L95.5,247.2L95.6,247.7L95.8,248.1L95.9,248.4L96.2,249.0L96.4,249.4L96.7,249.7L96.9,249.9L97.2,250.0L97.5,250.1L98.0,250.3L98.5,250.4L99.0,250.4L100.1,250.4L101.4,250.4L102.7,250.3L105.2,250.3L107.8,250.2L110.4,250.1L113.0,250.0L115.6,250.0L118.2,249.9L120.8,249.8L120.8,249.8L120.9,250.0L121.0,250.2L121.1,250.4L121.2,250.6L121.4,250.7L121.5,250.9L121.6,251.0L121.7,251.1L121.9,251.2L122.1,251.3L122.4,251.4L122.6,251.5L122.9,251.6L123.2,251.6L123.4,251.6L123.9,251.7L124.5,251.7L125.0,251.7L126.0,251.6L127.3,251.6L128.6,251.6L131.2,251.5L133.8,251.4L136.4,251.3L139.0,251.2L141.6,251.2L144.2,251.1L146.8,251.0L146.8,251.0L146.9,251.1L147.0,251.2L147.1,251.3L147.2,251.4L147.3,251.4L147.5,251.5L147.6,251.6L147.7,251.6L147.8,251.7L148.1,251.8L148.4,251.8L148.6,251.8L148.9,251.9L149.1,251.9L149.4,251.9L149.9,251.9L150.4,251.9L151.0,251.9L152.0,251.8L153.3,251.8L154.6,251.7L157.2,251.6L159.8,251.5L162.4,251.5L165.0,251.4L167.6,251.3L170.2,251.2L172.8,251.1L172.8,251.1L172.9,251.2L173.0,251.3L173.1,251.3L173.2,251.4L173.3,251.5L173.4,251.6L173.6,251.6L173.7,251.7L173.8,251.7L174.1,251.8L174.3,251.8L174.6,251.8L174.9,251.9L175.1,251.9L175.4,251.9L175.9,251.9L176.4,251.9L176.9,251.9L178.0,251.8L179.3,251.8L180.6,251.7L183.2,251.6L185.8,251.5L188.4,251.5L191.0,251.4L193.6,251.3L196.2,251.2L198.8,251.1L198.8,251.1L198.9,251.2L199.0,251.3L199.1,251.3L199.2,251.4L199.3,251.5L199.4,251.6L199.5,251.6L199.7,251.7L199.8,251.7L200.0,251.8L200.3,251.8L200.6,251.8L200.8,251.9L201.1,251.9L201.3,251.9L201.9,251.9L202.4,251.9L202.9,251.9L203.9,251.8L205.2,251.8L206.5,251.7L209.1,251.6L211.7,251.5L214.3,251.5L216.9,251.4L219.5,251.3L222.1,251.2L224.7,251.1L224.7,251.1L224.8,251.2L224.9,251.3L225.0,251.3L225.1,251.4L225.2,251.5L225.4,251.6L225.5,251.6L225.6,251.7L225.8,251.7L226.0,251.8L226.3,251.8L226.5,251.8L226.8,251.9L227.1,251.9L227.3,251.9L227.8,251.9L228.4,251.9L228.9,251.9L229.9,251.8L231.2,251.8L232.5,251.7L235.1,251.6L237.7,251.5L240.3,251.5L242.9,251.4L245.5,251.3L248.1,251.2L250.7,251.1L250.7,251.1L250.8,251.2L250.9,251.3L251.0,251.3L251.1,251.4L251.2,251.5L251.3,251.6L251.5,251.6L251.6,251.7L251.7,251.7L252.0,251.8L252.3,251.8L252.5,251.8L252.8,251.9L253.0,251.9L253.3,251.9L253.8,251.9L254.3,251.9L254.9,251.9L255.9,251.8L257.2,251.8L258.5,251.7L261.1,251.6L263.7,251.5L266.3,251.5L268.9,251.4L271.5,251.3L274.1,251.2L276.7,251.1L276.7,251.1L276.8,251.2L276.9,251.3L277.0,251.3L277.1,251.4L277.2,251.5L277.3,251.6L277.4,251.6L277.6,251.7L277.7,251.7L278.0,251.8L278.2,251.8L278.5,251.8L278.7,251.9L279.0,251.9L279.3,251.9L279.8,251.9L280.3,251.9L280.8,251.9L281.9,251.8L283.2,251.8L284.5,251.7L287.1,251.6L289.7,251.5L292.3,251.5L294.8,251.4L297.4,251.3L300.0,251.2L302.6,251.1L302.6,251.1L302.7,251.2L302.8,251.3L303.0,251.3L303.1,251.4L303.2,251.5L303.3,251.6L303.4,251.6L303.5,251.7L303.7,251.7L303.9,251.8L304.2,251.8L304.5,251.8L304.7,251.9L305.0,251.9L305.2,251.9L305.8,251.9L306.3,251.9L306.8,251.9L307.8,251.8L309.1,251.8L310.4,251.7L313.0,251.6L315.6,251.5L318.2,251.5L320.8,251.4L323.4,251.3L326.0,251.2L328.6,251.1" fill="none" stroke="#a9349a" stroke-opacity="0.87" stroke-width="2.0" stroke-linejoin="round" stroke-linecap="square"/>
<line x1="68.89" y1="263.40" x2="68.89" y2="267.30" stroke="#000" stroke-width="0.89"/>
<text x="68.89" y="279.7" text-anchor="middle" font-size="11.2">0</text>
<line x1="94.86" y1="263.40" x2="94.86" y2="267.30" stroke="#000" stroke-width="0.89"/>
<text x="94.86" y="279.7" text-anchor="middle" font-size="11.2">1</text>
<line x1="120.83" y1="263.40" x2="120.83" y2="267.30" stroke="#000" stroke-width="0.89"/>
<text x="120.83" y="279.7" text-anchor="middle" font-size="11.2">2</text>
<line x1="146.80" y1="263.40" x2="146.80" y2="267.30" stroke="#000" stroke-width="0.89"/>
<text x="146.80" y="279.7" text-anchor="middle" font-size="11.2">3</text>
<line x1="172.78" y1="263.40" x2="172.78" y2="267.30" stroke="#000" stroke-width="0.89"/>
<text x="172.78" y="279.7" text-anchor="middle" font-size="11.2">4</text>
<line x1="198.75" y1="263.40" x2="198.75" y2="267.30" stroke="#000" stroke-width="0.89"/>
<text x="198.75" y="279.7" text-anchor="middle" font-size="11.2">5</text>
<line x1="224.72" y1="263.40" x2="224.72" y2="267.30" stroke="#000" stroke-width="0.89"/>
<text x="224.72" y="279.7" text-anchor="middle" font-size="11.2">6</text>
<line x1="250.70" y1="263.40" x2="250.70" y2="267.30" stroke="#000" stroke-width="0.89"/>
<text x="250.70" y="279.7" text-anchor="middle" font-size="11.2">7</text>
<line x1="276.67" y1="263.40" x2="276.67" y2="267.30" stroke="#000" stroke-width="0.89"/>
<text x="276.67" y="279.7" text-anchor="middle" font-size="11.2">8</text>
<line x1="302.64" y1="263.40" x2="302.64" y2="267.30" stroke="#000" stroke-width="0.89"/>
<text x="302.64" y="279.7" text-anchor="middle" font-size="11.2">9</text>
<line x1="328.61" y1="263.40" x2="328.61" y2="267.30" stroke="#000" stroke-width="0.89"/>
<text x="328.61" y="279.7" text-anchor="middle" font-size="11.2">10</text>
<line x1="52.00" y1="231.20" x2="55.90" y2="231.20" stroke="#000" stroke-width="0.89"/>
<text x="47.90" y="235.30" text-anchor="end" font-size="11.2">0.05</text>
<line x1="52.00" y1="196.55" x2="55.90" y2="196.55" stroke="#000" stroke-width="0.89"/>
<text x="47.90" y="200.65" text-anchor="end" font-size="11.2">0.10</text>
<line x1="52.00" y1="161.90" x2="55.90" y2="161.90" stroke="#000" stroke-width="0.89"/>
<text x="47.90" y="166.00" text-anchor="end" font-size="11.2">0.15</text>
<line x1="52.00" y1="127.25" x2="55.90" y2="127.25" stroke="#000" stroke-width="0.89"/>
<text x="47.90" y="131.35" text-anchor="end" font-size="11.2">0.20</text>
<line x1="52.00" y1="92.60" x2="55.90" y2="92.60" stroke="#000" stroke-width="0.89"/>
<text x="47.90" y="96.70" text-anchor="end" font-size="11.2">0.25</text>
<line x1="52.00" y1="57.95" x2="55.90" y2="57.95" stroke="#000" stroke-width="0.89"/>
<text x="47.90" y="62.05" text-anchor="end" font-size="11.2">0.30</text>
<line x1="52.00" y1="23.30" x2="55.90" y2="23.30" stroke="#000" stroke-width="0.89"/>
<text x="47.90" y="27.40" text-anchor="end" font-size="11.2">0.35</text>
<rect x="55.90" y="18.90" width="285.70" height="244.50" fill="none" stroke="#000" stroke-width="0.89"/>
<text x="198.75" y="302" text-anchor="middle" font-size="13.4">Time (years)</text>
<text x="22.80" y="10.5" font-size="13.4">A</text>
</g>
<g>
<path d="M411.4,29.6L411.5,43.5L411.6,55.8L411.7,66.7L411.8,76.3L411.9,84.9L412.0,94.2L412.1,102.2L412.3,109.1L412.4,115.0L412.6,124.4L412.9,131.4L413.2,136.5L413.4,140.3L413.7,143.1L413.9,145.2L414.5,147.9L415.0,149.3L415.5,150.0L416.5,150.5L417.8,150.4L419.1,150.2L421.7,149.6L424.3,149.1L426.9,148.5L429.5,148.0L432.1,147.4L434.7,146.9L437.3,146.4L437.3,146.4L437.4,151.1L437.5,155.4L437.6,159.1L437.7,162.5L437.8,165.4L437.9,168.6L438.0,171.4L438.2,173.8L438.3,175.8L438.6,179.1L438.8,181.5L439.1,183.2L439.3,184.5L439.6,185.4L439.9,186.1L440.4,186.9L440.9,187.3L441.4,187.5L442.4,187.6L443.7,187.5L445.0,187.3L447.6,186.9L450.2,186.6L452.8,186.2L455.4,185.8L458.0,185.5L460.6,185.1L463.2,184.7L463.2,184.7L463.3,185.8L463.4,186.8L463.5,187.6L463.6,188.4L463.7,189.1L463.8,189.8L463.9,190.5L464.1,191.0L464.2,191.5L464.5,192.3L464.7,192.8L465.0,193.1L465.2,193.4L465.5,193.6L465.8,193.7L466.3,193.8L466.8,193.9L467.3,193.8L468.4,193.7L469.6,193.6L470.9,193.4L473.5,193.0L476.1,192.7L478.7,192.3L481.3,191.9L483.9,191.5L486.5,191.2L489.1,190.8L489.1,190.8L489.2,191.2L489.3,191.6L489.4,192.0L489.5,192.3L489.6,192.6L489.7,192.8L489.9,193.1L490.0,193.3L490.1,193.5L490.4,193.7L490.6,193.9L490.9,194.1L491.2,194.2L491.4,194.2L491.7,194.2L492.2,194.3L492.7,194.2L493.2,194.2L494.3,194.0L495.6,193.9L496.9,193.7L499.4,193.3L502.0,192.9L504.6,192.5L507.2,192.1L509.8,191.7L512.4,191.3L515.0,191.0L515.0,191.0L515.1,191.4L515.2,191.8L515.3,192.1L515.4,192.4L515.5,192.6L515.6,192.9L515.8,193.1L515.9,193.3L516.0,193.5L516.3,193.7L516.5,193.9L516.8,194.0L517.1,194.0L517.3,194.1L517.6,194.1L518.1,194.0L518.6,193.9L519.1,193.8L520.2,193.6L521.5,193.2L522.8,192.9L525.4,192.2L527.9,191.4L530.5,190.7L533.1,189.9L535.7,189.1L538.3,188.3L540.9,187.5L540.9,187.5L541.0,187.9L541.1,188.3L541.2,188.6L541.3,188.8L541.4,189.0L541.5,189.2L541.7,189.4L541.8,189.5L541.9,189.5L542.2,189.6L542.5,189.6L542.7,189.5L543.0,189.3L543.2,189.1L543.5,188.9L544.0,188.4L544.5,187.8L545.0,187.3L546.1,186.1L547.4,184.6L548.7,183.1L551.3,180.2L553.9,177.4L556.4,174.6L559.0,171.8L561.6,169.1L564.2,166.4L566.8,163.8L566.8,163.8L566.9,164.1L567.0,164.3L567.1,164.5L567.2,164.7L567.3,164.8L567.5,164.9L567.6,164.9L567.7,164.9L567.8,164.9L568.1,164.7L568.4,164.5L568.6,164.1L568.9,163.7L569.1,163.3L569.4,162.8L569.9,161.8L570.4,160.8L571.0,159.8L572.0,157.7L573.3,155.1L574.6,152.5L577.2,147.5L579.8,142.6L582.4,137.8L584.9,133.2L587.5,128.8L590.1,124.5L592.7,120.4L592.7,120.4L592.8,120.6L592.9,120.8L593.0,120.9L593.1,121.0L593.2,121.1L593.4,121.2L593.5,121.2L593.6,121.2L593.8,121.1L594.0,120.9L594.3,120.7L594.5,120.3L594.8,119.9L595.0,119.5L595.3,119.0L595.8,118.1L596.3,117.1L596.9,116.1L597.9,114.2L599.2,111.7L600.5,109.2L603.1,104.4L605.7,99.6L608.3,94.9L610.9,90.3L613.4,85.8L616.0,81.4L618.6,77.1L618.6,77.1L618.7,77.5L618.8,77.8L618.9,78.0L619.0,78.2L619.1,78.4L619.3,78.5L619.4,78.7L619.5,78.8L619.7,78.8L619.9,78.9L620.2,78.8L620.4,78.6L620.7,78.4L621.0,78.1L621.2,77.8L621.7,77.2L622.3,76.5L622.8,75.8L623.8,74.5L625.1,72.8L626.4,71.2L629.0,68.0L631.6,65.1L634.2,62.4L636.8,59.9L639.4,57.6L641.9,55.5L644.5,53.7L644.5,53.7L644.6,54.1L644.7,54.4L644.8,54.7L645.0,54.9L645.1,55.2L645.2,55.4L645.3,55.6L645.4,55.7L645.6,55.9L645.8,56.0L646.1,56.1L646.4,56.1L646.6,56.0L646.9,55.9L647.1,55.8L647.6,55.5L648.2,55.1L648.7,54.8L649.7,54.1L651.0,53.2L652.3,52.3L654.9,50.6L657.5,49.0L660.1,47.5L662.7,46.1L665.3,44.7L667.9,43.5L670.4,42.4L670.4,93.7L667.9,94.5L665.3,95.3L662.7,96.2L660.1,97.1L657.5,98.2L654.9,99.3L652.3,100.4L651.0,101.0L649.7,101.7L648.7,102.2L648.2,102.4L647.6,102.7L647.1,102.9L646.9,102.9L646.6,103.0L646.4,103.0L646.1,103.1L645.8,103.0L645.6,102.8L645.4,102.7L645.3,102.6L645.2,102.5L645.1,102.3L645.0,102.1L644.8,101.9L644.7,101.7L644.6,101.4L644.5,101.1L644.5,101.1L641.9,102.5L639.4,104.2L636.8,105.9L634.2,107.8L631.6,109.9L629.0,112.2L626.4,114.6L625.1,115.8L623.8,117.1L622.8,118.2L622.3,118.7L621.7,119.2L621.2,119.7L621.0,119.9L620.7,120.1L620.4,120.3L620.2,120.5L619.9,120.5L619.7,120.5L619.5,120.4L619.4,120.4L619.3,120.3L619.1,120.1L619.0,120.0L618.9,119.8L618.8,119.6L618.7,119.4L618.6,119.2L618.6,119.2L616.0,122.3L613.4,125.5L610.9,128.8L608.3,132.2L605.7,135.6L603.1,139.2L600.5,142.8L599.2,144.6L597.9,146.5L596.9,148.0L596.3,148.7L595.8,149.4L595.3,150.1L595.0,150.5L594.8,150.8L594.5,151.1L594.3,151.4L594.0,151.5L593.8,151.7L593.6,151.7L593.5,151.7L593.4,151.7L593.2,151.7L593.1,151.6L593.0,151.5L592.9,151.4L592.8,151.2L592.7,151.0L592.7,151.0L590.1,154.3L587.5,157.6L584.9,161.1L582.4,164.6L579.8,168.3L577.2,172.2L574.6,176.1L573.3,178.1L572.0,180.2L571.0,181.8L570.4,182.6L569.9,183.4L569.4,184.2L569.1,184.6L568.9,184.9L568.6,185.3L568.4,185.5L568.1,185.7L567.8,185.8L567.7,185.9L567.6,185.9L567.5,185.8L567.3,185.8L567.2,185.7L567.1,185.5L567.0,185.4L566.9,185.2L566.8,185.0L566.8,185.0L564.2,187.1L561.6,189.2L559.0,191.3L556.4,193.5L553.9,195.8L551.3,198.1L548.7,200.4L547.4,201.5L546.1,202.7L545.0,203.7L544.5,204.1L544.0,204.5L543.5,204.9L543.2,205.1L543.0,205.3L542.7,205.4L542.5,205.5L542.2,205.5L541.9,205.5L541.8,205.4L541.7,205.3L541.5,205.2L541.4,205.0L541.3,204.9L541.2,204.7L541.1,204.5L541.0,204.2L540.9,203.9L540.9,203.9L538.3,204.6L535.7,205.2L533.1,205.8L530.5,206.5L527.9,207.1L525.4,207.7L522.8,208.3L521.5,208.6L520.2,208.8L519.1,209.0L518.6,209.1L518.1,209.2L517.6,209.3L517.3,209.3L517.1,209.2L516.8,209.2L516.5,209.1L516.3,209.0L516.0,208.8L515.9,208.7L515.8,208.5L515.6,208.4L515.5,208.1L515.4,207.9L515.3,207.7L515.2,207.5L515.1,207.2L515.0,206.8L515.0,206.8L512.4,207.1L509.8,207.4L507.2,207.7L504.6,208.0L502.0,208.4L499.4,208.7L496.9,209.0L495.6,209.1L494.3,209.3L493.2,209.4L492.7,209.4L492.2,209.4L491.7,209.4L491.4,209.4L491.2,209.4L490.9,209.3L490.6,209.2L490.4,209.0L490.1,208.8L490.0,208.7L489.9,208.5L489.7,208.3L489.6,208.1L489.5,207.9L489.4,207.6L489.3,207.4L489.2,207.1L489.1,206.7L489.1,206.7L486.5,207.0L483.9,207.3L481.3,207.6L478.7,207.9L476.1,208.2L473.5,208.5L470.9,208.7L469.6,208.9L468.4,209.0L467.3,209.1L466.8,209.1L466.3,209.1L465.8,209.0L465.5,208.9L465.2,208.7L465.0,208.5L464.7,208.3L464.5,207.9L464.2,207.4L464.1,207.1L463.9,206.7L463.8,206.3L463.7,205.8L463.6,205.3L463.5,204.8L463.4,204.2L463.3,203.5L463.2,202.7L463.2,202.7L460.6,203.0L458.0,203.3L455.4,203.6L452.8,203.8L450.2,204.1L447.6,204.4L445.0,204.7L443.7,204.8L442.4,204.9L441.4,204.9L440.9,204.7L440.4,204.4L439.9,203.7L439.6,203.2L439.3,202.5L439.1,201.5L438.8,200.2L438.6,198.3L438.3,195.9L438.2,194.4L438.0,192.6L437.9,190.6L437.8,188.2L437.7,185.9L437.6,183.4L437.5,180.6L437.4,177.4L437.3,173.8L437.3,173.8L434.7,174.2L432.1,174.6L429.5,175.1L426.9,175.5L424.3,175.9L421.7,176.3L419.1,176.7L417.8,176.9L416.5,177.0L415.5,176.6L415.0,176.1L414.5,175.2L413.9,173.3L413.7,171.9L413.4,169.8L413.2,167.0L412.9,163.2L412.6,157.9L412.4,150.8L412.3,146.4L412.1,141.2L412.0,135.2L411.9,128.2L411.8,121.7L411.7,114.4L411.6,106.2L411.5,96.9L411.4,86.4Z" fill="#fb8163" fill-opacity="0.27" stroke="#fb8163" stroke-opacity="0.27" stroke-width="0.9" stroke-linejoin="round"/>
<path d="M411.4,58.0L411.5,70.2L411.6,81.0L411.7,90.5L411.8,99.0L411.9,106.5L412.0,114.7L412.1,121.7L412.3,127.7L412.4,132.9L412.6,141.2L412.9,147.3L413.2,151.8L413.4,155.1L413.7,157.5L413.9,159.3L414.5,161.5L415.0,162.7L415.5,163.3L416.5,163.7L417.8,163.7L419.1,163.5L421.7,163.0L424.3,162.5L426.9,162.0L429.5,161.5L432.1,161.0L434.7,160.6L437.3,160.1L437.3,160.1L437.4,164.3L437.5,168.0L437.6,171.3L437.7,174.2L437.8,176.8L437.9,179.6L438.0,182.0L438.2,184.1L438.3,185.9L438.6,188.7L438.8,190.8L439.1,192.4L439.3,193.5L439.6,194.3L439.9,194.9L440.4,195.6L440.9,196.0L441.4,196.2L442.4,196.3L443.7,196.2L445.0,196.0L447.6,195.7L450.2,195.4L452.8,195.0L455.4,194.7L458.0,194.4L460.6,194.0L463.2,193.7L463.2,193.7L463.3,194.6L463.4,195.5L463.5,196.2L463.6,196.9L463.7,197.4L463.8,198.1L463.9,198.6L464.1,199.1L464.2,199.4L464.5,200.1L464.7,200.5L465.0,200.8L465.2,201.1L465.5,201.2L465.8,201.3L466.3,201.4L466.8,201.5L467.3,201.5L468.4,201.4L469.6,201.2L470.9,201.1L473.5,200.7L476.1,200.4L478.7,200.1L481.3,199.7L483.9,199.4L486.5,199.1L489.1,198.8L489.1,198.8L489.2,199.1L489.3,199.5L489.4,199.8L489.5,200.1L489.6,200.3L489.7,200.6L489.9,200.8L490.0,201.0L490.1,201.1L490.4,201.4L490.6,201.6L490.9,201.7L491.2,201.8L491.4,201.8L491.7,201.8L492.2,201.8L492.7,201.8L493.2,201.8L494.3,201.7L495.6,201.5L496.9,201.3L499.4,201.0L502.0,200.6L504.6,200.3L507.2,199.9L509.8,199.6L512.4,199.2L515.0,198.9L515.0,198.9L515.1,199.3L515.2,199.6L515.3,199.9L515.4,200.2L515.5,200.4L515.6,200.6L515.8,200.8L515.9,201.0L516.0,201.1L516.3,201.4L516.5,201.5L516.8,201.6L517.1,201.6L517.3,201.7L517.6,201.7L518.1,201.6L518.6,201.5L519.1,201.4L520.2,201.2L521.5,200.9L522.8,200.6L525.4,199.9L527.9,199.3L530.5,198.6L533.1,197.9L535.7,197.2L538.3,196.4L540.9,195.7L540.9,195.7L541.0,196.1L541.1,196.4L541.2,196.6L541.3,196.8L541.4,197.0L541.5,197.2L541.7,197.3L541.8,197.4L541.9,197.5L542.2,197.6L542.5,197.5L542.7,197.4L543.0,197.3L543.2,197.1L543.5,196.9L544.0,196.5L544.5,196.0L545.0,195.5L546.1,194.4L547.4,193.1L548.7,191.8L551.3,189.1L553.9,186.6L556.4,184.1L559.0,181.6L561.6,179.1L564.2,176.7L566.8,174.4L566.8,174.4L566.9,174.7L567.0,174.9L567.1,175.0L567.2,175.2L567.3,175.3L567.5,175.3L567.6,175.4L567.7,175.4L567.8,175.4L568.1,175.2L568.4,175.0L568.6,174.7L568.9,174.3L569.1,173.9L569.4,173.5L569.9,172.6L570.4,171.7L571.0,170.8L572.0,168.9L573.3,166.6L574.6,164.3L577.2,159.8L579.8,155.5L582.4,151.2L584.9,147.2L587.5,143.2L590.1,139.4L592.7,135.7L592.7,135.7L592.8,135.9L592.9,136.1L593.0,136.2L593.1,136.3L593.2,136.4L593.4,136.4L593.5,136.4L593.6,136.4L593.8,136.4L594.0,136.2L594.3,136.0L594.5,135.7L594.8,135.4L595.0,135.0L595.3,134.6L595.8,133.8L596.3,132.9L596.9,132.1L597.9,130.3L599.2,128.2L600.5,126.0L603.1,121.8L605.7,117.6L608.3,113.5L610.9,109.6L613.4,105.7L616.0,101.9L618.6,98.1L618.6,98.1L618.7,98.4L618.8,98.7L618.9,98.9L619.0,99.1L619.1,99.3L619.3,99.4L619.4,99.5L619.5,99.6L619.7,99.6L619.9,99.7L620.2,99.6L620.4,99.5L620.7,99.2L621.0,99.0L621.2,98.7L621.7,98.2L622.3,97.6L622.8,97.0L623.8,95.8L625.1,94.3L626.4,92.9L629.0,90.1L631.6,87.5L634.2,85.1L636.8,82.9L639.4,80.9L641.9,79.0L644.5,77.4L644.5,77.4L644.6,77.7L644.7,78.0L644.8,78.3L645.0,78.5L645.1,78.7L645.2,78.9L645.3,79.1L645.4,79.2L645.6,79.3L645.8,79.5L646.1,79.6L646.4,79.6L646.6,79.5L646.9,79.4L647.1,79.3L647.6,79.1L648.2,78.8L648.7,78.5L649.7,77.9L651.0,77.1L652.3,76.4L654.9,74.9L657.5,73.6L660.1,72.3L662.7,71.1L665.3,70.0L667.9,69.0L670.4,68.0" fill="none" stroke="#fb8163" stroke-opacity="0.87" stroke-width="2.0" stroke-linejoin="round" stroke-linecap="square"/>
<path d="M411.4,200.1L411.5,203.8L411.6,207.1L411.7,210.1L411.8,212.7L411.9,215.0L412.0,217.5L412.1,219.7L412.3,221.6L412.4,223.2L412.6,225.7L412.9,227.6L413.2,228.9L413.4,229.9L413.7,230.7L413.9,231.2L414.5,231.8L415.0,232.1L415.5,232.3L416.5,232.4L417.8,232.5L419.1,232.4L421.7,232.3L424.3,232.2L426.9,232.2L429.5,232.1L432.1,232.0L434.7,231.9L437.3,231.8L437.3,231.8L437.4,233.1L437.5,234.3L437.6,235.3L437.7,236.2L437.8,237.0L437.9,237.8L438.0,238.6L438.2,239.2L438.3,239.8L438.6,240.7L438.8,241.3L439.1,241.8L439.3,242.1L439.6,242.4L439.9,242.6L440.4,242.8L440.9,243.0L441.4,243.0L442.4,243.1L443.7,243.1L445.0,243.1L447.6,243.0L450.2,243.0L452.8,242.9L455.4,242.9L458.0,242.9L460.6,242.8L463.2,242.8L463.2,242.8L463.3,243.0L463.4,243.3L463.5,243.5L463.6,243.7L463.7,243.8L463.8,244.0L463.9,244.2L464.1,244.3L464.2,244.4L464.5,244.6L464.7,244.7L465.0,244.8L465.2,244.9L465.5,244.9L465.8,245.0L466.3,245.0L466.8,245.0L467.3,245.0L468.4,245.0L469.6,245.0L470.9,244.9L473.5,244.9L476.1,244.8L478.7,244.7L481.3,244.7L483.9,244.6L486.5,244.5L489.1,244.5L489.1,244.5L489.2,244.6L489.3,244.6L489.4,244.7L489.5,244.8L489.6,244.8L489.7,244.9L489.9,245.0L490.0,245.0L490.1,245.0L490.4,245.1L490.6,245.1L490.9,245.2L491.2,245.2L491.4,245.2L491.7,245.2L492.2,245.2L492.7,245.2L493.2,245.2L494.3,245.1L495.6,245.1L496.9,245.0L499.4,244.9L502.0,244.8L504.6,244.7L507.2,244.6L509.8,244.5L512.4,244.4L515.0,244.3L515.0,244.3L515.1,244.5L515.2,244.6L515.3,244.7L515.4,244.7L515.5,244.8L515.6,244.9L515.8,244.9L515.9,245.0L516.0,245.0L516.3,245.1L516.5,245.1L516.8,245.2L517.1,245.2L517.3,245.2L517.6,245.2L518.1,245.2L518.6,245.2L519.1,245.1L520.2,245.1L521.5,245.0L522.8,244.9L525.4,244.7L527.9,244.5L530.5,244.3L533.1,244.1L535.7,243.9L538.3,243.7L540.9,243.5L540.9,243.5L541.0,243.6L541.1,243.7L541.2,243.7L541.3,243.8L541.4,243.8L541.5,243.9L541.7,243.9L541.8,243.9L541.9,243.9L542.2,243.9L542.5,243.9L542.7,243.9L543.0,243.8L543.2,243.8L543.5,243.7L544.0,243.6L544.5,243.5L545.0,243.3L546.1,243.0L547.4,242.6L548.7,242.2L551.3,241.4L553.9,240.6L556.4,239.7L559.0,238.9L561.6,238.0L564.2,237.1L566.8,236.2L566.8,236.2L566.9,236.3L567.0,236.4L567.1,236.5L567.2,236.6L567.3,236.6L567.5,236.7L567.6,236.7L567.7,236.7L567.8,236.8L568.1,236.7L568.4,236.7L568.6,236.6L568.9,236.5L569.1,236.3L569.4,236.2L569.9,235.9L570.4,235.6L571.0,235.3L572.0,234.7L573.3,233.9L574.6,233.1L577.2,231.6L579.8,230.2L582.4,228.8L584.9,227.4L587.5,226.2L590.1,225.0L592.7,223.8L592.7,223.8L592.8,223.9L592.9,224.0L593.0,224.0L593.1,224.1L593.2,224.1L593.4,224.1L593.5,224.1L593.6,224.1L593.8,224.1L594.0,224.1L594.3,224.0L594.5,223.9L594.8,223.8L595.0,223.7L595.3,223.5L595.8,223.3L596.3,223.0L596.9,222.7L597.9,222.1L599.2,221.4L600.5,220.6L603.1,219.2L605.7,217.9L608.3,216.6L610.9,215.4L613.4,214.2L616.0,213.1L618.6,212.0L618.6,212.0L618.7,212.1L618.8,212.2L618.9,212.3L619.0,212.3L619.1,212.4L619.3,212.4L619.4,212.5L619.5,212.5L619.7,212.5L619.9,212.5L620.2,212.5L620.4,212.5L620.7,212.4L621.0,212.3L621.2,212.3L621.7,212.1L622.3,212.0L622.8,211.8L623.8,211.5L625.1,211.0L626.4,210.6L629.0,209.9L631.6,209.2L634.2,208.5L636.8,207.8L639.4,207.3L641.9,206.7L644.5,206.2L644.5,206.2L644.6,206.3L644.7,206.4L644.8,206.5L645.0,206.6L645.1,206.7L645.2,206.7L645.3,206.8L645.4,206.8L645.6,206.9L645.8,206.9L646.1,206.9L646.4,206.9L646.6,206.9L646.9,206.9L647.1,206.8L647.6,206.8L648.2,206.7L648.7,206.6L649.7,206.4L651.0,206.2L652.3,205.9L654.9,205.5L657.5,205.0L660.1,204.6L662.7,204.2L665.3,203.9L667.9,203.5L670.4,203.2L670.4,212.6L667.9,212.8L665.3,213.0L662.7,213.2L660.1,213.5L657.5,213.8L654.9,214.1L652.3,214.4L651.0,214.6L649.7,214.8L648.7,214.9L648.2,215.0L647.6,215.1L647.1,215.1L646.9,215.1L646.6,215.1L646.4,215.2L646.1,215.2L645.8,215.1L645.6,215.1L645.4,215.0L645.3,215.0L645.2,215.0L645.1,214.9L645.0,214.8L644.8,214.8L644.7,214.7L644.6,214.6L644.5,214.5L644.5,214.5L641.9,214.8L639.4,215.2L636.8,215.6L634.2,216.1L631.6,216.6L629.0,217.1L626.4,217.7L625.1,218.0L623.8,218.3L622.8,218.6L622.3,218.7L621.7,218.8L621.2,219.0L621.0,219.0L620.7,219.1L620.4,219.1L620.2,219.1L619.9,219.1L619.7,219.1L619.5,219.1L619.4,219.1L619.3,219.0L619.1,219.0L619.0,218.9L618.9,218.9L618.8,218.8L618.7,218.8L618.6,218.7L618.6,218.7L616.0,219.6L613.4,220.6L610.9,221.7L608.3,222.8L605.7,223.9L603.1,225.1L600.5,226.3L599.2,227.0L597.9,227.6L596.9,228.1L596.3,228.4L595.8,228.6L595.3,228.9L595.0,229.0L594.8,229.1L594.5,229.2L594.3,229.3L594.0,229.4L593.8,229.4L593.6,229.4L593.5,229.4L593.4,229.4L593.2,229.4L593.1,229.4L593.0,229.3L592.9,229.3L592.8,229.2L592.7,229.2L592.7,229.2L590.1,230.2L587.5,231.2L584.9,232.3L582.4,233.5L579.8,234.7L577.2,236.0L574.6,237.3L573.3,238.0L572.0,238.7L571.0,239.2L570.4,239.5L569.9,239.8L569.4,240.0L569.1,240.2L568.9,240.3L568.6,240.4L568.4,240.5L568.1,240.5L567.8,240.5L567.7,240.5L567.6,240.5L567.5,240.5L567.3,240.4L567.2,240.4L567.1,240.3L567.0,240.2L566.9,240.2L566.8,240.1L566.8,240.1L564.2,240.9L561.6,241.7L559.0,242.5L556.4,243.3L553.9,244.1L551.3,244.8L548.7,245.6L547.4,245.9L546.1,246.3L545.0,246.6L544.5,246.7L544.0,246.8L543.5,246.9L543.2,247.0L543.0,247.0L542.7,247.1L542.5,247.1L542.2,247.1L541.9,247.1L541.8,247.1L541.7,247.1L541.5,247.1L541.4,247.0L541.3,247.0L541.2,247.0L541.1,246.9L541.0,246.8L540.9,246.8L540.9,246.8L538.3,246.9L535.7,247.1L533.1,247.3L530.5,247.5L527.9,247.7L525.4,247.8L522.8,248.0L521.5,248.1L520.2,248.2L519.1,248.2L518.6,248.2L518.1,248.3L517.6,248.3L517.3,248.3L517.1,248.3L516.8,248.2L516.5,248.2L516.3,248.2L516.0,248.1L515.9,248.1L515.8,248.1L515.6,248.0L515.5,247.9L515.4,247.9L515.3,247.8L515.2,247.7L515.1,247.7L515.0,247.6L515.0,247.6L512.4,247.6L509.8,247.7L507.2,247.8L504.6,247.9L502.0,248.0L499.4,248.1L496.9,248.2L495.6,248.2L494.3,248.3L493.2,248.3L492.7,248.3L492.2,248.3L491.7,248.3L491.4,248.3L491.2,248.3L490.9,248.3L490.6,248.3L490.4,248.3L490.1,248.2L490.0,248.2L489.9,248.1L489.7,248.1L489.6,248.0L489.5,248.0L489.4,247.9L489.3,247.9L489.2,247.8L489.1,247.7L489.1,247.7L486.5,247.8L483.9,247.8L481.3,247.9L478.7,248.0L476.1,248.0L473.5,248.1L470.9,248.2L469.6,248.2L468.4,248.2L467.3,248.2L466.8,248.2L466.3,248.2L465.8,248.2L465.5,248.2L465.2,248.1L465.0,248.1L464.7,248.0L464.5,247.9L464.2,247.7L464.1,247.6L463.9,247.5L463.8,247.4L463.7,247.2L463.6,247.1L463.5,247.0L463.4,246.8L463.3,246.6L463.2,246.4L463.2,246.4L460.6,246.4L458.0,246.5L455.4,246.6L452.8,246.7L450.2,246.8L447.6,246.9L445.0,247.0L443.7,247.0L442.4,247.1L441.4,247.0L440.9,247.0L440.4,246.9L439.9,246.7L439.6,246.6L439.3,246.4L439.1,246.1L438.8,245.7L438.6,245.2L438.3,244.5L438.2,244.0L438.0,243.5L437.9,242.9L437.8,242.2L437.7,241.5L437.6,240.8L437.5,239.9L437.4,239.0L437.3,237.9L437.3,237.9L434.7,238.0L432.1,238.1L429.5,238.2L426.9,238.2L424.3,238.3L421.7,238.4L419.1,238.5L417.8,238.5L416.5,238.5L415.5,238.3L415.0,238.1L414.5,237.7L413.9,237.1L413.7,236.5L413.4,235.9L413.2,234.9L412.9,233.7L412.6,232.1L412.4,229.8L412.3,228.4L412.1,226.8L412.0,224.9L411.9,222.7L411.8,220.7L411.7,218.5L411.6,215.9L411.5,213.0L411.4,209.8Z" fill="#e64a78" fill-opacity="0.27" stroke="#e64a78" stroke-opacity="0.27" stroke-width="0.9" stroke-linejoin="round"/>
<path d="M411.4,204.9L411.5,208.4L411.6,211.5L411.7,214.3L411.8,216.7L411.9,218.9L412.0,221.2L412.1,223.3L412.3,225.0L412.4,226.5L412.6,228.9L412.9,230.6L413.2,231.9L413.4,232.9L413.7,233.6L413.9,234.1L414.5,234.8L415.0,235.1L415.5,235.3L416.5,235.5L417.8,235.5L419.1,235.4L421.7,235.4L424.3,235.3L426.9,235.2L429.5,235.1L432.1,235.0L434.7,235.0L437.3,234.9L437.3,234.9L437.4,236.1L437.5,237.1L437.6,238.0L437.7,238.8L437.8,239.6L437.9,240.4L438.0,241.0L438.2,241.6L438.3,242.1L438.6,242.9L438.8,243.5L439.1,243.9L439.3,244.3L439.6,244.5L439.9,244.7L440.4,244.9L440.9,245.0L441.4,245.0L442.4,245.1L443.7,245.1L445.0,245.0L447.6,245.0L450.2,244.9L452.8,244.8L455.4,244.8L458.0,244.7L460.6,244.6L463.2,244.6L463.2,244.6L463.3,244.8L463.4,245.0L463.5,245.2L463.6,245.4L463.7,245.5L463.8,245.7L463.9,245.8L464.1,246.0L464.2,246.1L464.5,246.2L464.7,246.4L465.0,246.4L465.2,246.5L465.5,246.5L465.8,246.6L466.3,246.6L466.8,246.6L467.3,246.6L468.4,246.6L469.6,246.6L470.9,246.5L473.5,246.5L476.1,246.4L478.7,246.4L481.3,246.3L483.9,246.2L486.5,246.2L489.1,246.1L489.1,246.1L489.2,246.2L489.3,246.3L489.4,246.3L489.5,246.4L489.6,246.4L489.7,246.5L489.9,246.5L490.0,246.6L490.1,246.6L490.4,246.7L490.6,246.7L490.9,246.7L491.2,246.8L491.4,246.8L491.7,246.8L492.2,246.8L492.7,246.8L493.2,246.7L494.3,246.7L495.6,246.7L496.9,246.6L499.4,246.5L502.0,246.4L504.6,246.3L507.2,246.2L509.8,246.1L512.4,246.0L515.0,245.9L515.0,245.9L515.1,246.1L515.2,246.1L515.3,246.2L515.4,246.3L515.5,246.4L515.6,246.4L515.8,246.5L515.9,246.5L516.0,246.6L516.3,246.6L516.5,246.7L516.8,246.7L517.1,246.7L517.3,246.7L517.6,246.7L518.1,246.7L518.6,246.7L519.1,246.7L520.2,246.6L521.5,246.5L522.8,246.4L525.4,246.3L527.9,246.1L530.5,245.9L533.1,245.7L535.7,245.5L538.3,245.3L540.9,245.1L540.9,245.1L541.0,245.2L541.1,245.3L541.2,245.3L541.3,245.4L541.4,245.4L541.5,245.5L541.7,245.5L541.8,245.5L541.9,245.5L542.2,245.5L542.5,245.5L542.7,245.5L543.0,245.4L543.2,245.4L543.5,245.3L544.0,245.2L544.5,245.1L545.0,244.9L546.1,244.6L547.4,244.3L548.7,243.9L551.3,243.1L553.9,242.3L556.4,241.5L559.0,240.7L561.6,239.9L564.2,239.0L566.8,238.1L566.8,238.1L566.9,238.2L567.0,238.3L567.1,238.4L567.2,238.5L567.3,238.5L567.5,238.6L567.6,238.6L567.7,238.6L567.8,238.6L568.1,238.6L568.4,238.6L568.6,238.5L568.9,238.4L569.1,238.3L569.4,238.1L569.9,237.8L570.4,237.6L571.0,237.3L572.0,236.7L573.3,235.9L574.6,235.2L577.2,233.8L579.8,232.4L582.4,231.1L584.9,229.9L587.5,228.7L590.1,227.6L592.7,226.5L592.7,226.5L592.8,226.6L592.9,226.6L593.0,226.7L593.1,226.7L593.2,226.7L593.4,226.8L593.5,226.8L593.6,226.8L593.8,226.8L594.0,226.7L594.3,226.7L594.5,226.6L594.8,226.5L595.0,226.3L595.3,226.2L595.8,225.9L596.3,225.7L596.9,225.4L597.9,224.8L599.2,224.2L600.5,223.5L603.1,222.2L605.7,220.9L608.3,219.7L610.9,218.5L613.4,217.4L616.0,216.4L618.6,215.4L618.6,215.4L618.7,215.4L618.8,215.5L618.9,215.6L619.0,215.6L619.1,215.7L619.3,215.7L619.4,215.8L619.5,215.8L619.7,215.8L619.9,215.8L620.2,215.8L620.4,215.8L620.7,215.7L621.0,215.7L621.2,215.6L621.7,215.5L622.3,215.3L622.8,215.2L623.8,214.9L625.1,214.5L626.4,214.2L629.0,213.5L631.6,212.9L634.2,212.3L636.8,211.7L639.4,211.2L641.9,210.8L644.5,210.4L644.5,210.4L644.6,210.5L644.7,210.6L644.8,210.7L645.0,210.7L645.1,210.8L645.2,210.8L645.3,210.9L645.4,210.9L645.6,211.0L645.8,211.0L646.1,211.0L646.4,211.0L646.6,211.0L646.9,211.0L647.1,211.0L647.6,210.9L648.2,210.8L648.7,210.8L649.7,210.6L651.0,210.4L652.3,210.2L654.9,209.8L657.5,209.4L660.1,209.1L662.7,208.7L665.3,208.4L667.9,208.1L670.4,207.9" fill="none" stroke="#e64a78" stroke-opacity="0.87" stroke-width="2.0" stroke-linejoin="round" stroke-linecap="square"/>
<path d="M411.4,220.1L411.5,222.8L411.6,225.2L411.7,227.3L411.8,229.1L411.9,230.8L412.0,232.6L412.1,234.1L412.3,235.5L412.4,236.6L412.6,238.4L412.9,239.8L413.2,240.8L413.4,241.5L413.7,242.0L413.9,242.4L414.5,242.9L415.0,243.2L415.5,243.3L416.5,243.4L417.8,243.4L419.1,243.4L421.7,243.3L424.3,243.2L426.9,243.2L429.5,243.1L432.1,243.0L434.7,242.9L437.3,242.9L437.3,242.9L437.4,243.7L437.5,244.4L437.6,245.1L437.7,245.6L437.8,246.1L437.9,246.7L438.0,247.2L438.2,247.6L438.3,247.9L438.6,248.5L438.8,248.9L439.1,249.2L439.3,249.4L439.6,249.6L439.9,249.7L440.4,249.8L440.9,249.9L441.4,249.9L442.4,249.9L443.7,249.9L445.0,249.9L447.6,249.8L450.2,249.7L452.8,249.7L455.4,249.6L458.0,249.5L460.6,249.4L463.2,249.3L463.2,249.3L463.3,249.6L463.4,249.8L463.5,250.0L463.6,250.1L463.7,250.3L463.8,250.4L463.9,250.5L464.1,250.7L464.2,250.8L464.5,250.9L464.7,251.0L465.0,251.1L465.2,251.1L465.5,251.2L465.8,251.2L466.3,251.2L466.8,251.2L467.3,251.2L468.4,251.2L469.6,251.2L470.9,251.1L473.5,251.1L476.1,251.0L478.7,250.9L481.3,250.8L483.9,250.7L486.5,250.6L489.1,250.6L489.1,250.6L489.2,250.7L489.3,250.8L489.4,250.9L489.5,251.0L489.6,251.0L489.7,251.1L489.9,251.2L490.0,251.2L490.1,251.3L490.4,251.3L490.6,251.4L490.9,251.4L491.2,251.4L491.4,251.5L491.7,251.5L492.2,251.5L492.7,251.5L493.2,251.5L494.3,251.4L495.6,251.4L496.9,251.3L499.4,251.2L502.0,251.1L504.6,251.0L507.2,250.9L509.8,250.8L512.4,250.7L515.0,250.6L515.0,250.6L515.1,250.7L515.2,250.8L515.3,250.9L515.4,251.0L515.5,251.1L515.6,251.1L515.8,251.2L515.9,251.2L516.0,251.3L516.3,251.3L516.5,251.4L516.8,251.4L517.1,251.4L517.3,251.4L517.6,251.4L518.1,251.4L518.6,251.4L519.1,251.4L520.2,251.3L521.5,251.2L522.8,251.1L525.4,250.9L527.9,250.7L530.5,250.5L533.1,250.2L535.7,250.0L538.3,249.8L540.9,249.6L540.9,249.6L541.0,249.6L541.1,249.7L541.2,249.8L541.3,249.8L541.4,249.9L541.5,249.9L541.7,249.9L541.8,250.0L541.9,250.0L542.2,250.0L542.5,250.0L542.7,250.0L543.0,250.0L543.2,249.9L543.5,249.9L544.0,249.8L544.5,249.7L545.0,249.6L546.1,249.4L547.4,249.2L548.7,248.9L551.3,248.4L553.9,247.8L556.4,247.3L559.0,246.7L561.6,246.1L564.2,245.5L566.8,244.9L566.8,244.9L566.9,245.0L567.0,245.1L567.1,245.1L567.2,245.1L567.3,245.2L567.5,245.2L567.6,245.2L567.7,245.2L567.8,245.2L568.1,245.2L568.4,245.1L568.6,245.0L568.9,244.9L569.1,244.8L569.4,244.7L569.9,244.5L570.4,244.3L571.0,244.0L572.0,243.5L573.3,242.9L574.6,242.4L577.2,241.2L579.8,240.1L582.4,239.1L584.9,238.1L587.5,237.1L590.1,236.2L592.7,235.3L592.7,235.3L592.8,235.4L592.9,235.4L593.0,235.4L593.1,235.5L593.2,235.5L593.4,235.5L593.5,235.5L593.6,235.5L593.8,235.5L594.0,235.5L594.3,235.5L594.5,235.4L594.8,235.3L595.0,235.2L595.3,235.1L595.8,235.0L596.3,234.8L596.9,234.6L597.9,234.2L599.2,233.7L600.5,233.3L603.1,232.4L605.7,231.5L608.3,230.6L610.9,229.8L613.4,229.1L616.0,228.3L618.6,227.6L618.6,227.6L618.7,227.7L618.8,227.8L618.9,227.8L619.0,227.8L619.1,227.9L619.3,227.9L619.4,227.9L619.5,227.9L619.7,228.0L619.9,228.0L620.2,228.0L620.4,227.9L620.7,227.9L621.0,227.8L621.2,227.8L621.7,227.7L622.3,227.6L622.8,227.4L623.8,227.2L625.1,226.9L626.4,226.6L629.0,226.1L631.6,225.6L634.2,225.1L636.8,224.7L639.4,224.3L641.9,223.9L644.5,223.6L644.5,223.6L644.6,223.6L644.7,223.7L644.8,223.8L645.0,223.8L645.1,223.9L645.2,223.9L645.3,224.0L645.4,224.0L645.6,224.0L645.8,224.1L646.1,224.1L646.4,224.1L646.6,224.1L646.9,224.0L647.1,224.0L647.6,224.0L648.2,223.9L648.7,223.8L649.7,223.7L651.0,223.5L652.3,223.4L654.9,223.0L657.5,222.7L660.1,222.4L662.7,222.2L665.3,221.9L667.9,221.7L670.4,221.5L670.4,224.5L667.9,224.7L665.3,224.9L662.7,225.1L660.1,225.4L657.5,225.6L654.9,225.9L652.3,226.2L651.0,226.4L649.7,226.5L648.7,226.7L648.2,226.7L647.6,226.8L647.1,226.8L646.9,226.8L646.6,226.9L646.4,226.9L646.1,226.9L645.8,226.9L645.6,226.8L645.4,226.8L645.3,226.8L645.2,226.7L645.1,226.7L645.0,226.7L644.8,226.6L644.7,226.5L644.6,226.5L644.5,226.4L644.5,226.4L641.9,226.7L639.4,227.0L636.8,227.4L634.2,227.8L631.6,228.3L629.0,228.7L626.4,229.3L625.1,229.5L623.8,229.8L622.8,230.0L622.3,230.1L621.7,230.2L621.2,230.3L621.0,230.4L620.7,230.4L620.4,230.5L620.2,230.5L619.9,230.5L619.7,230.5L619.5,230.5L619.4,230.5L619.3,230.5L619.1,230.4L619.0,230.4L618.9,230.4L618.8,230.3L618.7,230.3L618.6,230.2L618.6,230.2L616.0,230.8L613.4,231.5L610.9,232.2L608.3,232.9L605.7,233.7L603.1,234.5L600.5,235.3L599.2,235.8L597.9,236.2L596.9,236.6L596.3,236.7L595.8,236.9L595.3,237.1L595.0,237.2L594.8,237.2L594.5,237.3L594.3,237.4L594.0,237.4L593.8,237.4L593.6,237.4L593.5,237.4L593.4,237.4L593.2,237.4L593.1,237.4L593.0,237.3L592.9,237.3L592.8,237.3L592.7,237.2L592.7,237.2L590.1,238.0L587.5,238.9L584.9,239.8L582.4,240.7L579.8,241.7L577.2,242.7L574.6,243.7L573.3,244.3L572.0,244.9L571.0,245.3L570.4,245.5L569.9,245.7L569.4,246.0L569.1,246.1L568.9,246.2L568.6,246.2L568.4,246.3L568.1,246.4L567.8,246.4L567.7,246.4L567.6,246.4L567.5,246.4L567.3,246.4L567.2,246.3L567.1,246.3L567.0,246.3L566.9,246.2L566.8,246.1L566.8,246.1L564.2,246.7L561.6,247.3L559.0,247.8L556.4,248.3L553.9,248.9L551.3,249.4L548.7,249.9L547.4,250.1L546.1,250.4L545.0,250.6L544.5,250.6L544.0,250.7L543.5,250.8L543.2,250.8L543.0,250.9L542.7,250.9L542.5,250.9L542.2,250.9L541.9,250.9L541.8,250.9L541.7,250.8L541.5,250.8L541.4,250.8L541.3,250.7L541.2,250.7L541.1,250.6L541.0,250.6L540.9,250.5L540.9,250.5L538.3,250.7L535.7,250.9L533.1,251.1L530.5,251.3L527.9,251.5L525.4,251.7L522.8,251.9L521.5,252.0L520.2,252.1L519.1,252.2L518.6,252.2L518.1,252.2L517.6,252.3L517.3,252.3L517.1,252.3L516.8,252.2L516.5,252.2L516.3,252.2L516.0,252.1L515.9,252.1L515.8,252.0L515.6,252.0L515.5,251.9L515.4,251.9L515.3,251.8L515.2,251.7L515.1,251.6L515.0,251.5L515.0,251.5L512.4,251.6L509.8,251.7L507.2,251.8L504.6,251.9L502.0,252.0L499.4,252.1L496.9,252.2L495.6,252.2L494.3,252.2L493.2,252.3L492.7,252.3L492.2,252.3L491.7,252.3L491.4,252.3L491.2,252.3L490.9,252.2L490.6,252.2L490.4,252.2L490.1,252.1L490.0,252.1L489.9,252.0L489.7,251.9L489.6,251.9L489.5,251.8L489.4,251.7L489.3,251.6L489.2,251.5L489.1,251.4L489.1,251.4L486.5,251.5L483.9,251.6L481.3,251.7L478.7,251.8L476.1,251.8L473.5,251.9L470.9,252.0L469.6,252.0L468.4,252.1L467.3,252.1L466.8,252.1L466.3,252.1L465.8,252.1L465.5,252.0L465.2,252.0L465.0,251.9L464.7,251.9L464.5,251.8L464.2,251.6L464.1,251.5L463.9,251.4L463.8,251.3L463.7,251.2L463.6,251.0L463.5,250.9L463.4,250.7L463.3,250.5L463.2,250.3L463.2,250.3L460.6,250.4L458.0,250.4L455.4,250.5L452.8,250.6L450.2,250.7L447.6,250.7L445.0,250.8L443.7,250.8L442.4,250.9L441.4,250.8L440.9,250.8L440.4,250.7L439.9,250.6L439.6,250.5L439.3,250.3L439.1,250.1L438.8,249.9L438.6,249.5L438.3,249.0L438.2,248.6L438.0,248.2L437.9,247.8L437.8,247.3L437.7,246.8L437.6,246.3L437.5,245.7L437.4,245.0L437.3,244.2L437.3,244.2L434.7,244.3L432.1,244.3L429.5,244.4L426.9,244.5L424.3,244.5L421.7,244.6L419.1,244.7L417.8,244.7L416.5,244.7L415.5,244.6L415.0,244.5L414.5,244.2L413.9,243.8L413.7,243.4L413.4,242.9L413.2,242.2L412.9,241.3L412.6,240.0L412.4,238.3L412.3,237.2L412.1,236.0L412.0,234.5L411.9,232.8L411.8,231.3L411.7,229.5L411.6,227.5L411.5,225.3L411.4,222.8Z" fill="#a9349a" fill-opacity="0.27" stroke="#a9349a" stroke-opacity="0.27" stroke-width="0.9" stroke-linejoin="round"/>
<path d="M411.4,221.5L411.5,224.1L411.6,226.4L411.7,228.4L411.8,230.2L411.9,231.8L412.0,233.5L412.1,235.0L412.3,236.3L412.4,237.4L412.6,239.2L412.9,240.5L413.2,241.5L413.4,242.2L413.7,242.7L413.9,243.1L414.5,243.6L415.0,243.8L415.5,244.0L416.5,244.1L417.8,244.1L419.1,244.0L421.7,244.0L424.3,243.9L426.9,243.8L429.5,243.7L432.1,243.7L434.7,243.6L437.3,243.5L437.3,243.5L437.4,244.3L437.5,245.0L437.6,245.7L437.7,246.2L437.8,246.7L437.9,247.2L438.0,247.7L438.2,248.1L438.3,248.4L438.6,249.0L438.8,249.4L439.1,249.7L439.3,249.9L439.6,250.0L439.9,250.1L440.4,250.3L440.9,250.4L441.4,250.4L442.4,250.4L443.7,250.4L445.0,250.3L447.6,250.3L450.2,250.2L452.8,250.1L455.4,250.0L458.0,250.0L460.6,249.9L463.2,249.8L463.2,249.8L463.3,250.0L463.4,250.2L463.5,250.4L463.6,250.6L463.7,250.7L463.8,250.9L463.9,251.0L464.1,251.1L464.2,251.2L464.5,251.3L464.7,251.4L465.0,251.5L465.2,251.6L465.5,251.6L465.8,251.6L466.3,251.7L466.8,251.7L467.3,251.7L468.4,251.6L469.6,251.6L470.9,251.6L473.5,251.5L476.1,251.4L478.7,251.3L481.3,251.2L483.9,251.2L486.5,251.1L489.1,251.0L489.1,251.0L489.2,251.1L489.3,251.2L489.4,251.3L489.5,251.4L489.6,251.4L489.7,251.5L489.9,251.6L490.0,251.6L490.1,251.7L490.4,251.8L490.6,251.8L490.9,251.8L491.2,251.9L491.4,251.9L491.7,251.9L492.2,251.9L492.7,251.9L493.2,251.9L494.3,251.8L495.6,251.8L496.9,251.7L499.4,251.6L502.0,251.5L504.6,251.5L507.2,251.4L509.8,251.3L512.4,251.2L515.0,251.1L515.0,251.1L515.1,251.2L515.2,251.3L515.3,251.4L515.4,251.4L515.5,251.5L515.6,251.6L515.8,251.6L515.9,251.7L516.0,251.7L516.3,251.8L516.5,251.8L516.8,251.8L517.1,251.8L517.3,251.8L517.6,251.8L518.1,251.8L518.6,251.8L519.1,251.8L520.2,251.7L521.5,251.6L522.8,251.5L525.4,251.3L527.9,251.1L530.5,250.9L533.1,250.7L535.7,250.5L538.3,250.3L540.9,250.0L540.9,250.0L541.0,250.1L541.1,250.2L541.2,250.2L541.3,250.3L541.4,250.3L541.5,250.4L541.7,250.4L541.8,250.4L541.9,250.4L542.2,250.4L542.5,250.4L542.7,250.4L543.0,250.4L543.2,250.4L543.5,250.3L544.0,250.3L544.5,250.2L545.0,250.1L546.1,249.9L547.4,249.6L548.7,249.4L551.3,248.9L553.9,248.3L556.4,247.8L559.0,247.3L561.6,246.7L564.2,246.1L566.8,245.5L566.8,245.5L566.9,245.6L567.0,245.7L567.1,245.7L567.2,245.7L567.3,245.8L567.5,245.8L567.6,245.8L567.7,245.8L567.8,245.8L568.1,245.8L568.4,245.7L568.6,245.6L568.9,245.5L569.1,245.4L569.4,245.3L569.9,245.1L570.4,244.9L571.0,244.7L572.0,244.2L573.3,243.6L574.6,243.1L577.2,242.0L579.8,240.9L582.4,239.9L584.9,238.9L587.5,238.0L590.1,237.1L592.7,236.3L592.7,236.3L592.8,236.3L592.9,236.4L593.0,236.4L593.1,236.4L593.2,236.4L593.4,236.5L593.5,236.5L593.6,236.5L593.8,236.5L594.0,236.4L594.3,236.4L594.5,236.3L594.8,236.3L595.0,236.2L595.3,236.1L595.8,235.9L596.3,235.8L596.9,235.6L597.9,235.2L599.2,234.8L600.5,234.3L603.1,233.4L605.7,232.6L608.3,231.8L610.9,231.0L613.4,230.3L616.0,229.6L618.6,228.9L618.6,228.9L618.7,229.0L618.8,229.0L618.9,229.1L619.0,229.1L619.1,229.1L619.3,229.2L619.4,229.2L619.5,229.2L619.7,229.2L619.9,229.2L620.2,229.2L620.4,229.2L620.7,229.2L621.0,229.1L621.2,229.1L621.7,229.0L622.3,228.8L622.8,228.7L623.8,228.5L625.1,228.2L626.4,227.9L629.0,227.4L631.6,226.9L634.2,226.5L636.8,226.0L639.4,225.7L641.9,225.3L644.5,225.0L644.5,225.0L644.6,225.1L644.7,225.1L644.8,225.2L645.0,225.2L645.1,225.3L645.2,225.3L645.3,225.4L645.4,225.4L645.6,225.4L645.8,225.5L646.1,225.5L646.4,225.5L646.6,225.5L646.9,225.4L647.1,225.4L647.6,225.4L648.2,225.3L648.7,225.2L649.7,225.1L651.0,224.9L652.3,224.8L654.9,224.5L657.5,224.2L660.1,223.9L662.7,223.6L665.3,223.4L667.9,223.2L670.4,223.0" fill="none" stroke="#a9349a" stroke-opacity="0.87" stroke-width="2.0" stroke-linejoin="round" stroke-linecap="square"/>
<line x1="411.35" y1="263.40" x2="411.35" y2="267.30" stroke="#000" stroke-width="0.89"/>
<text x="411.35" y="279.7" text-anchor="middle" font-size="11.2">0</text>
<line x1="437.26" y1="263.40" x2="437.26" y2="267.30" stroke="#000" stroke-width="0.89"/>
<text x="437.26" y="279.7" text-anchor="middle" font-size="11.2">1</text>
<line x1="463.17" y1="263.40" x2="463.17" y2="267.30" stroke="#000" stroke-width="0.89"/>
<text x="463.17" y="279.7" text-anchor="middle" font-size="11.2">2</text>
<line x1="489.08" y1="263.40" x2="489.08" y2="267.30" stroke="#000" stroke-width="0.89"/>
<text x="489.08" y="279.7" text-anchor="middle" font-size="11.2">3</text>
<line x1="514.99" y1="263.40" x2="514.99" y2="267.30" stroke="#000" stroke-width="0.89"/>
<text x="514.99" y="279.7" text-anchor="middle" font-size="11.2">4</text>
<line x1="540.90" y1="263.40" x2="540.90" y2="267.30" stroke="#000" stroke-width="0.89"/>
<text x="540.90" y="279.7" text-anchor="middle" font-size="11.2">5</text>
<line x1="566.81" y1="263.40" x2="566.81" y2="267.30" stroke="#000" stroke-width="0.89"/>
<text x="566.81" y="279.7" text-anchor="middle" font-size="11.2">6</text>
<line x1="592.72" y1="263.40" x2="592.72" y2="267.30" stroke="#000" stroke-width="0.89"/>
<text x="592.72" y="279.7" text-anchor="middle" font-size="11.2">7</text>
<line x1="618.63" y1="263.40" x2="618.63" y2="267.30" stroke="#000" stroke-width="0.89"/>
<text x="618.63" y="279.7" text-anchor="middle" font-size="11.2">8</text>
<line x1="644.54" y1="263.40" x2="644.54" y2="267.30" stroke="#000" stroke-width="0.89"/>
<text x="644.54" y="279.7" text-anchor="middle" font-size="11.2">9</text>
<line x1="670.45" y1="263.40" x2="670.45" y2="267.30" stroke="#000" stroke-width="0.89"/>
<text x="670.45" y="279.7" text-anchor="middle" font-size="11.2">10</text>
<line x1="394.50" y1="231.20" x2="398.40" y2="231.20" stroke="#000" stroke-width="0.89"/>
<text x="390.40" y="235.30" text-anchor="end" font-size="11.2">0.05</text>
<line x1="394.50" y1="196.55" x2="398.40" y2="196.55" stroke="#000" stroke-width="0.89"/>
<text x="390.40" y="200.65" text-anchor="end" font-size="11.2">0.10</text>
<line x1="394.50" y1="161.90" x2="398.40" y2="161.90" stroke="#000" stroke-width="0.89"/>
<text x="390.40" y="166.00" text-anchor="end" font-size="11.2">0.15</text>
<line x1="394.50" y1="127.25" x2="398.40" y2="127.25" stroke="#000" stroke-width="0.89"/>
<text x="390.40" y="131.35" text-anchor="end" font-size="11.2">0.20</text>
<line x1="394.50" y1="92.60" x2="398.40" y2="92.60" stroke="#000" stroke-width="0.89"/>
<text x="390.40" y="96.70" text-anchor="end" font-size="11.2">0.25</text>
<line x1="394.50" y1="57.95" x2="398.40" y2="57.95" stroke="#000" stroke-width="0.89"/>
<text x="390.40" y="62.05" text-anchor="end" font-size="11.2">0.30</text>
<line x1="394.50" y1="23.30" x2="398.40" y2="23.30" stroke="#000" stroke-width="0.89"/>
<text x="390.40" y="27.40" text-anchor="end" font-size="11.2">0.35</text>
<rect x="398.40" y="18.90" width="285.00" height="244.50" fill="none" stroke="#000" stroke-width="0.89"/>
<text x="540.90" y="302" text-anchor="middle" font-size="13.4">Time (years)</text>
<text x="365.30" y="10.5" font-size="13.4">B</text>
</g>
<text transform="translate(11.2,141.25) rotate(-90)" text-anchor="middle" font-size="13.48">Prevalence per 100,000 population</text>
<rect x="213.60" y="24.70" width="121.80" height="52.70" rx="2.2" ry="2.2" fill="#fff" fill-opacity="0.8" stroke="#c4c4c4" stroke-width="1"/>
<line x1="217.9" y1="33.90" x2="240.2" y2="33.90" stroke="#fb8163" stroke-opacity="0.87" stroke-width="2.0" stroke-linecap="square"/>
<text x="249.0" y="37.90" font-size="11.36">primary CDI</text>
<line x1="217.9" y1="50.45" x2="240.2" y2="50.45" stroke="#e64a78" stroke-opacity="0.87" stroke-width="2.0" stroke-linecap="square"/>
<text x="249.0" y="54.45" font-size="11.36">secondary CDI</text>
<line x1="217.9" y1="67.00" x2="240.2" y2="67.00" stroke="#a9349a" stroke-opacity="0.87" stroke-width="2.0" stroke-linecap="square"/>
<text x="249.0" y="71.00" font-size="11.36">tertiary CDI</text>
</svg>
</body></html>
